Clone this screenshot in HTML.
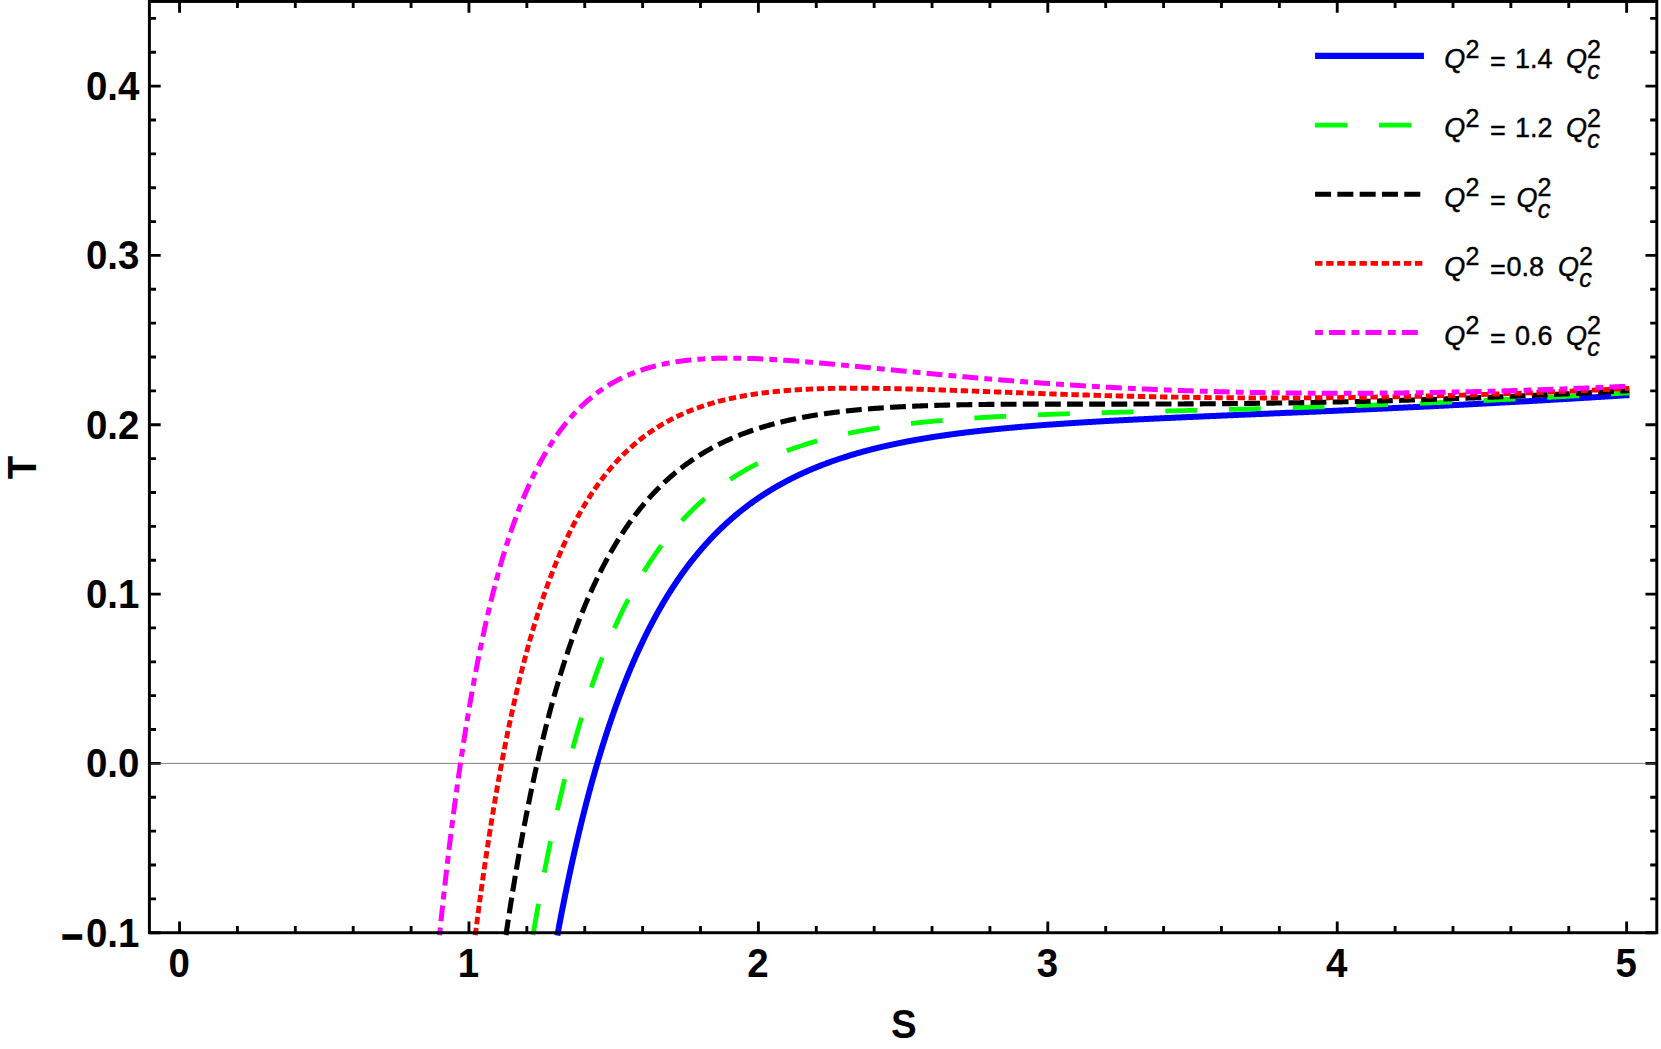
<!DOCTYPE html>
<html><head><meta charset="utf-8"><title>T-S plot</title>
<style>html,body{margin:0;padding:0;background:#fff}svg{display:block}text{font-family:"Liberation Sans",sans-serif;fill:#000}</style>
</head><body>
<svg width="1661" height="1049" viewBox="0 0 1661 1049">
<rect width="1661" height="1049" fill="#fff"/>
<line x1="149.40" y1="763.40" x2="1656.79" y2="763.40" stroke="#808080" stroke-width="1"/>
<g fill="none" stroke-linecap="butt" stroke-linejoin="round">
<path d="M557.32 935.52 L557.33 935.47 L557.35 935.36 L557.38 935.21 L557.41 935.03 L557.45 934.82 L557.49 934.58 L557.54 934.32 L557.60 934.03 L557.65 933.72 L557.71 933.40 L557.78 933.05 L557.85 932.68 L557.92 932.29 L558.00 931.89 L558.07 931.46 L558.16 931.03 L558.24 930.57 L558.33 930.10 L558.42 929.61 L558.52 929.11 L558.61 928.59 L558.71 928.06 L558.82 927.52 L558.92 926.96 L559.03 926.39 L559.14 925.80 L559.25 925.21 L559.37 924.60 L559.49 923.97 L559.61 923.34 L559.73 922.69 L559.86 922.03 L559.99 921.36 L560.12 920.68 L560.25 919.99 L560.38 919.29 L560.52 918.57 L560.66 917.85 L560.80 917.11 L560.95 916.37 L561.09 915.62 L561.24 914.85 L561.39 914.08 L561.54 913.29 L561.70 912.50 L561.86 911.70 L562.02 910.89 L562.18 910.07 L562.34 909.24 L562.50 908.40 L562.67 907.56 L562.84 906.70 L563.01 905.84 L563.18 904.97 L563.36 904.09 L563.53 903.21 L563.71 902.31 L563.89 901.41 L564.08 900.51 L564.26 899.59 L564.45 898.67 L564.63 897.74 L564.82 896.80 L565.02 895.86 L565.21 894.91 L565.40 893.95 L565.60 892.99 L565.80 892.02 L566.00 891.04 L566.20 890.06 L566.41 889.07 L566.61 888.08 L566.82 887.07 L567.03 886.07 L567.24 885.06 L567.45 884.04 L567.67 883.02 L567.88 881.99 L568.10 880.95 L568.32 879.92 L568.54 878.87 L568.76 877.82 L568.99 876.77 L569.21 875.71 L569.44 874.65 L569.67 873.58 L569.90 872.51 L570.13 871.43 L570.36 870.35 L570.60 869.26 L570.84 868.17 L571.07 867.08 L571.31 865.98 L571.56 864.87 L571.80 863.77 L572.04 862.66 L572.29 861.54 L572.54 860.43 L572.79 859.30 L573.04 858.18 L573.29 857.05 L573.54 855.92 L573.80 854.78 L574.06 853.65 L574.31 852.50 L574.57 851.36 L574.83 850.21 L575.10 849.06 L575.36 847.91 L575.63 846.75 L575.89 845.59 L576.16 844.43 L576.43 843.27 L576.70 842.10 L576.98 840.93 L577.25 839.76 L577.53 838.58 L577.80 837.41 L578.08 836.23 L578.36 835.05 L578.64 833.86 L578.92 832.68 L579.21 831.49 L579.49 830.30 L579.78 829.11 L580.07 827.92 L580.36 826.73 L580.65 825.53 L580.94 824.33 L581.24 823.13 L581.53 821.93 L581.83 820.73 L582.13 819.53 L582.42 818.32 L582.72 817.12 L583.03 815.91 L583.33 814.70 L583.63 813.49 L583.94 812.28 L584.25 811.07 L584.56 809.86 L584.87 808.64 L585.18 807.43 L585.49 806.21 L585.80 805.00 L586.12 803.78 L586.43 802.56 L586.75 801.35 L587.07 800.13 L587.39 798.91 L587.71 797.69 L588.03 796.47 L588.36 795.25 L588.68 794.03 L589.01 792.81 L589.34 791.59 L589.67 790.37 L590.00 789.15 L590.33 787.93 L590.66 786.71 L590.99 785.49 L591.33 784.26 L591.67 783.04 L592.00 781.82 L592.34 780.60 L592.68 779.38 L593.03 778.16 L593.37 776.94 L593.71 775.72 L594.06 774.50 L594.40 773.28 L594.75 772.07 L595.10 770.85 L595.45 769.63 L595.80 768.41 L596.15 767.20 L596.51 765.98 L596.86 764.77 L597.22 763.55 L597.58 762.34 L597.93 761.13 L598.29 759.92 L598.65 758.71 L599.02 757.50 L599.38 756.29 L599.74 755.08 L600.11 753.87 L600.48 752.67 L600.84 751.46 L601.21 750.26 L601.58 749.05 L601.95 747.85 L602.33 746.65 L602.70 745.45 L603.08 744.26 L603.45 743.06 L603.83 741.86 L604.21 740.67 L604.59 739.48 L604.97 738.29 L605.35 737.10 L605.73 735.91 L606.12 734.72 L606.50 733.53 L606.89 732.35 L607.27 731.17 L607.66 729.99 L608.05 728.81 L608.44 727.63 L608.84 726.46 L609.23 725.28 L609.62 724.11 L610.02 722.94 L610.41 721.77 L610.81 720.60 L611.21 719.44 L611.61 718.27 L612.01 717.11 L612.41 715.95 L612.82 714.79 L613.22 713.64 L613.63 712.48 L614.03 711.33 L614.44 710.18 L614.85 709.03 L615.26 707.89 L615.67 706.74 L616.08 705.60 L616.49 704.46 L616.91 703.32 L617.32 702.19 L617.74 701.05 L618.16 699.92 L618.57 698.79 L618.99 697.66 L619.41 696.54 L619.84 695.42 L620.26 694.30 L620.68 693.18 L621.11 692.06 L621.53 690.95 L621.96 689.84 L622.39 688.73 L622.82 687.62 L623.25 686.52 L623.68 685.41 L624.11 684.32 L624.54 683.22 L624.98 682.12 L625.41 681.03 L625.85 679.94 L626.29 678.85 L626.72 677.77 L627.16 676.69 L627.60 675.61 L628.05 674.53 L628.49 673.45 L628.93 672.38 L629.38 671.31 L629.82 670.24 L630.27 669.18 L630.72 668.12 L631.17 667.06 L631.61 666.00 L632.07 664.95 L632.52 663.90 L632.97 662.85 L633.42 661.80 L633.88 660.76 L634.33 659.72 L634.79 658.68 L635.25 657.64 L635.71 656.61 L636.17 655.58 L636.63 654.55 L637.09 653.53 L637.55 652.50 L638.02 651.48 L638.48 650.47 L638.95 649.45 L639.42 648.44 L639.88 647.43 L640.35 646.43 L640.82 645.43 L641.29 644.43 L641.77 643.43 L642.24 642.43 L642.71 641.44 L643.19 640.45 L643.66 639.47 L644.14 638.48 L644.62 637.50 L645.10 636.53 L645.58 635.55 L646.06 634.58 L646.54 633.61 L647.02 632.65 L647.51 631.68 L647.99 630.72 L648.48 629.76 L648.96 628.81 L649.45 627.86 L649.94 626.91 L650.43 625.96 L650.92 625.02 L651.41 624.08 L651.90 623.14 L652.40 622.21 L652.89 621.28 L653.39 620.35 L653.88 619.42 L654.38 618.50 L654.88 617.58 L655.38 616.66 L655.88 615.75 L656.38 614.84 L656.88 613.93 L657.38 613.03 L657.89 612.12 L658.39 611.22 L658.90 610.33 L659.41 609.43 L659.91 608.54 L660.42 607.66 L660.93 606.77 L661.44 605.89 L661.95 605.01 L662.47 604.14 L662.98 603.26 L663.49 602.39 L664.01 601.53 L664.53 600.66 L665.04 599.80 L665.56 598.94 L666.08 598.09 L666.60 597.24 L667.12 596.39 L667.64 595.54 L668.16 594.70 L668.69 593.86 L669.21 593.02 L669.74 592.18 L670.26 591.35 L670.79 590.52 L671.32 589.70 L671.85 588.87 L672.38 588.05 L672.91 587.24 L673.44 586.42 L673.98 585.61 L674.51 584.80 L675.04 584.00 L675.58 583.19 L676.12 582.39 L676.65 581.60 L677.19 580.80 L677.73 580.01 L678.27 579.22 L678.81 578.44 L679.35 577.66 L679.90 576.88 L680.44 576.10 L680.98 575.33 L681.53 574.56 L682.08 573.79 L682.62 573.02 L683.17 572.26 L683.72 571.50 L684.27 570.75 L684.82 569.99 L685.37 569.24 L685.93 568.50 L686.48 567.75 L687.03 567.01 L687.59 566.27 L688.15 565.53 L688.70 564.80 L689.26 564.07 L689.82 563.34 L690.38 562.62 L690.94 561.89 L691.50 561.17 L692.07 560.46 L692.63 559.74 L693.19 559.03 L693.76 558.32 L694.32 557.62 L694.89 556.92 L695.46 556.22 L696.03 555.52 L696.60 554.83 L697.17 554.13 L697.74 553.45 L698.31 552.76 L698.88 552.08 L699.46 551.40 L700.03 550.72 L700.61 550.04 L701.18 549.37 L701.76 548.70 L702.34 548.04 L702.92 547.37 L703.50 546.71 L704.08 546.05 L704.66 545.40 L705.24 544.74 L705.83 544.09 L706.41 543.44 L707.00 542.80 L707.58 542.16 L708.17 541.52 L708.76 540.88 L709.35 540.24 L709.93 539.61 L710.52 538.98 L711.12 538.36 L711.71 537.73 L712.30 537.11 L712.89 536.49 L713.49 535.88 L714.08 535.26 L714.68 534.65 L715.28 534.04 L715.88 533.44 L716.47 532.84 L717.07 532.24 L717.67 531.64 L718.28 531.04 L718.88 530.45 L719.48 529.86 L720.08 529.27 L720.69 528.69 L721.29 528.10 L721.90 527.52 L722.51 526.95 L723.12 526.37 L723.72 525.80 L724.33 525.23 L724.95 524.66 L725.56 524.10 L726.17 523.53 L726.78 522.97 L727.40 522.42 L728.01 521.86 L728.63 521.31 L729.24 520.76 L729.86 520.21 L730.48 519.66 L731.10 519.12 L731.72 518.58 L732.34 518.04 L732.96 517.51 L733.58 516.97 L734.20 516.44 L734.83 515.91 L735.45 515.39 L736.08 514.86 L736.70 514.34 L737.33 513.82 L737.96 513.31 L738.59 512.79 L739.22 512.28 L739.85 511.77 L740.48 511.26 L741.11 510.76 L741.74 510.25 L742.38 509.75 L743.01 509.25 L743.65 508.76 L744.28 508.26 L744.92 507.77 L745.56 507.28 L746.19 506.80 L746.83 506.31 L747.47 505.83 L748.12 505.35 L748.76 504.87 L749.40 504.40 L750.04 503.92 L750.69 503.45 L751.33 502.98 L751.98 502.51 L752.62 502.05 L753.27 501.59 L753.92 501.13 L754.57 500.67 L755.22 500.21 L755.87 499.76 L756.52 499.31 L757.17 498.86 L757.83 498.41 L758.48 497.96 L759.13 497.52 L759.79 497.08 L760.45 496.64 L761.10 496.20 L761.76 495.77 L762.42 495.33 L763.08 494.90 L763.74 494.47 L764.40 494.05 L765.06 493.62 L765.72 493.20 L766.39 492.78 L767.05 492.36 L767.72 491.94 L768.38 491.53 L769.05 491.12 L769.72 490.71 L770.38 490.30 L771.05 489.89 L771.72 489.49 L772.39 489.08 L773.06 488.68 L773.74 488.28 L774.41 487.89 L775.08 487.49 L775.76 487.10 L776.43 486.71 L777.11 486.32 L777.78 485.93 L778.46 485.55 L779.14 485.16 L779.82 484.78 L780.50 484.40 L781.18 484.02 L781.86 483.65 L782.54 483.27 L783.22 482.90 L783.91 482.53 L784.59 482.16 L785.28 481.80 L785.96 481.43 L786.65 481.07 L787.34 480.71 L788.03 480.35 L788.72 479.99 L789.41 479.63 L790.10 479.28 L790.79 478.93 L791.48 478.58 L792.17 478.23 L792.87 477.88 L793.56 477.53 L794.26 477.19 L794.95 476.85 L795.65 476.51 L796.35 476.17 L797.04 475.83 L797.74 475.50 L798.44 475.16 L799.14 474.83 L799.85 474.50 L800.55 474.17 L801.25 473.85 L801.95 473.52 L802.66 473.20 L803.36 472.88 L804.07 472.56 L804.78 472.24 L805.48 471.92 L806.19 471.61 L806.90 471.29 L807.61 470.98 L808.32 470.67 L809.03 470.36 L809.74 470.05 L810.46 469.75 L811.17 469.44 L811.88 469.14 L812.60 468.84 L813.31 468.54 L814.03 468.24 L814.75 467.95 L815.47 467.65 L816.18 467.36 L816.90 467.07 L817.62 466.78 L818.35 466.49 L819.07 466.20 L819.79 465.92 L820.51 465.63 L821.24 465.35 L821.96 465.07 L822.69 464.79 L823.41 464.51 L824.14 464.23 L824.87 463.96 L825.60 463.68 L826.32 463.41 L827.05 463.14 L827.79 462.87 L828.52 462.60 L829.25 462.33 L829.98 462.07 L830.72 461.80 L831.45 461.54 L832.18 461.28 L832.92 461.02 L833.66 460.76 L834.39 460.50 L835.13 460.25 L835.87 459.99 L836.61 459.74 L837.35 459.49 L838.09 459.24 L838.83 458.99 L839.58 458.74 L840.32 458.49 L841.06 458.25 L841.81 458.00 L842.55 457.76 L843.30 457.52 L844.05 457.28 L844.79 457.04 L845.54 456.80 L846.29 456.57 L847.04 456.33 L847.79 456.10 L848.54 455.87 L849.29 455.63 L850.05 455.40 L850.80 455.18 L851.55 454.95 L852.31 454.72 L853.06 454.50 L853.82 454.27 L854.58 454.05 L855.33 453.83 L856.09 453.61 L856.85 453.39 L857.61 453.17 L858.37 452.95 L859.13 452.74 L859.90 452.52 L860.66 452.31 L861.42 452.10 L862.19 451.89 L862.95 451.68 L863.72 451.47 L864.48 451.26 L865.25 451.05 L866.02 450.85 L866.79 450.64 L867.56 450.44 L868.33 450.24 L869.10 450.04 L869.87 449.84 L870.64 449.64 L871.41 449.44 L872.19 449.24 L872.96 449.05 L873.74 448.85 L874.51 448.66 L875.29 448.47 L876.06 448.28 L876.84 448.09 L877.62 447.90 L878.40 447.71 L879.18 447.52 L879.96 447.33 L880.74 447.15 L881.52 446.96 L882.31 446.78 L883.09 446.60 L883.87 446.42 L884.66 446.24 L885.45 446.06 L886.23 445.88 L887.02 445.70 L887.81 445.53 L888.59 445.35 L889.38 445.18 L890.17 445.00 L890.96 444.83 L891.76 444.66 L892.55 444.49 L893.34 444.32 L894.13 444.15 L894.93 443.98 L895.72 443.81 L896.52 443.65 L897.31 443.48 L898.11 443.32 L898.91 443.15 L899.71 442.99 L900.50 442.83 L901.30 442.67 L902.10 442.51 L902.91 442.35 L903.71 442.19 L904.51 442.04 L905.31 441.88 L906.12 441.72 L906.92 441.57 L907.73 441.42 L908.53 441.26 L909.34 441.11 L910.15 440.96 L910.95 440.81 L911.76 440.66 L912.57 440.51 L913.38 440.36 L914.19 440.22 L915.00 440.07 L915.82 439.92 L916.63 439.78 L917.44 439.63 L918.26 439.49 L919.07 439.35 L919.89 439.21 L920.70 439.07 L921.52 438.93 L922.34 438.79 L923.16 438.65 L923.98 438.51 L924.80 438.37 L925.62 438.24 L926.44 438.10 L927.26 437.97 L928.08 437.83 L928.90 437.70 L929.73 437.57 L930.55 437.43 L931.38 437.30 L932.20 437.17 L933.03 437.04 L933.86 436.91 L934.68 436.79 L935.51 436.66 L936.34 436.53 L937.17 436.40 L938.00 436.28 L938.83 436.15 L939.67 436.03 L940.50 435.91 L941.33 435.78 L942.17 435.66 L943.00 435.54 L943.84 435.42 L944.67 435.30 L945.51 435.18 L946.35 435.06 L947.18 434.94 L948.02 434.82 L948.86 434.71 L949.70 434.59 L950.54 434.47 L951.39 434.36 L952.23 434.24 L953.07 434.13 L953.91 434.02 L954.76 433.90 L955.60 433.79 L956.45 433.68 L957.29 433.57 L958.14 433.46 L958.99 433.35 L959.84 433.24 L960.69 433.13 L961.54 433.02 L962.39 432.92 L963.24 432.81 L964.09 432.70 L964.94 432.60 L965.79 432.49 L966.65 432.39 L967.50 432.29 L968.36 432.18 L969.21 432.08 L970.07 431.98 L970.92 431.87 L971.78 431.77 L972.64 431.67 L973.50 431.57 L974.36 431.47 L975.22 431.37 L976.08 431.27 L976.94 431.18 L977.80 431.08 L978.67 430.98 L979.53 430.89 L980.39 430.79 L981.26 430.69 L982.12 430.60 L982.99 430.50 L983.86 430.41 L984.72 430.32 L985.59 430.22 L986.46 430.13 L987.33 430.04 L988.20 429.95 L989.07 429.86 L989.94 429.76 L990.82 429.67 L991.69 429.58 L992.56 429.49 L993.44 429.41 L994.31 429.32 L995.19 429.23 L996.06 429.14 L996.94 429.05 L997.82 428.97 L998.69 428.88 L999.57 428.80 L1000.45 428.71 L1001.33 428.63 L1002.21 428.54 L1003.09 428.46 L1003.98 428.37 L1004.86 428.29 L1005.74 428.21 L1006.63 428.12 L1007.51 428.04 L1008.40 427.96 L1009.28 427.88 L1010.17 427.80 L1011.06 427.72 L1011.94 427.64 L1012.83 427.56 L1013.72 427.48 L1014.61 427.40 L1015.50 427.32 L1016.39 427.24 L1017.28 427.17 L1018.18 427.09 L1019.07 427.01 L1019.96 426.94 L1020.86 426.86 L1021.75 426.78 L1022.65 426.71 L1023.54 426.63 L1024.44 426.56 L1025.34 426.48 L1026.24 426.41 L1027.14 426.33 L1028.04 426.26 L1028.94 426.19 L1029.84 426.12 L1030.74 426.04 L1031.64 425.97 L1032.54 425.90 L1033.45 425.83 L1034.35 425.76 L1035.25 425.69 L1036.16 425.62 L1037.07 425.55 L1037.97 425.48 L1038.88 425.41 L1039.79 425.34 L1040.70 425.27 L1041.60 425.20 L1042.51 425.13 L1043.43 425.06 L1044.34 425.00 L1045.25 424.93 L1046.16 424.86 L1047.07 424.79 L1047.99 424.73 L1048.90 424.66 L1049.82 424.60 L1050.73 424.53 L1051.65 424.46 L1052.56 424.40 L1053.48 424.33 L1054.40 424.27 L1055.32 424.21 L1056.24 424.14 L1057.16 424.08 L1058.08 424.01 L1059.00 423.95 L1059.92 423.89 L1060.84 423.83 L1061.77 423.76 L1062.69 423.70 L1063.62 423.64 L1064.54 423.58 L1065.47 423.52 L1066.39 423.46 L1067.32 423.39 L1068.25 423.33 L1069.18 423.27 L1070.10 423.21 L1071.03 423.15 L1071.96 423.09 L1072.89 423.03 L1073.83 422.97 L1074.76 422.92 L1075.69 422.86 L1076.62 422.80 L1077.56 422.74 L1078.49 422.68 L1079.43 422.62 L1080.36 422.57 L1081.30 422.51 L1082.24 422.45 L1083.17 422.39 L1084.11 422.34 L1085.05 422.28 L1085.99 422.22 L1086.93 422.17 L1087.87 422.11 L1088.81 422.06 L1089.76 422.00 L1090.70 421.94 L1091.64 421.89 L1092.59 421.83 L1093.53 421.78 L1094.48 421.72 L1095.42 421.67 L1096.37 421.61 L1097.31 421.56 L1098.26 421.51 L1099.21 421.45 L1100.16 421.40 L1101.11 421.35 L1102.06 421.29 L1103.01 421.24 L1103.96 421.19 L1104.91 421.13 L1105.87 421.08 L1106.82 421.03 L1107.77 420.98 L1108.73 420.92 L1109.68 420.87 L1110.64 420.82 L1111.59 420.77 L1112.55 420.72 L1113.51 420.66 L1114.47 420.61 L1115.43 420.56 L1116.39 420.51 L1117.35 420.46 L1118.31 420.41 L1119.27 420.36 L1120.23 420.31 L1121.19 420.26 L1122.16 420.21 L1123.12 420.16 L1124.08 420.11 L1125.05 420.06 L1126.01 420.01 L1126.98 419.96 L1127.95 419.91 L1128.92 419.86 L1129.88 419.81 L1130.85 419.76 L1131.82 419.71 L1132.79 419.66 L1133.76 419.62 L1134.73 419.57 L1135.70 419.52 L1136.68 419.47 L1137.65 419.42 L1138.62 419.37 L1139.60 419.33 L1140.57 419.28 L1141.55 419.23 L1142.52 419.18 L1143.50 419.13 L1144.48 419.09 L1145.46 419.04 L1146.43 418.99 L1147.41 418.94 L1148.39 418.90 L1149.37 418.85 L1150.35 418.80 L1151.34 418.76 L1152.32 418.71 L1153.30 418.66 L1154.28 418.62 L1155.27 418.57 L1156.25 418.52 L1157.24 418.48 L1158.22 418.43 L1159.21 418.38 L1160.20 418.34 L1161.19 418.29 L1162.17 418.25 L1163.16 418.20 L1164.15 418.15 L1165.14 418.11 L1166.13 418.06 L1167.12 418.02 L1168.12 417.97 L1169.11 417.93 L1170.10 417.88 L1171.09 417.83 L1172.09 417.79 L1173.08 417.74 L1174.08 417.70 L1175.08 417.65 L1176.07 417.61 L1177.07 417.56 L1178.07 417.52 L1179.07 417.47 L1180.06 417.43 L1181.06 417.38 L1182.06 417.34 L1183.07 417.29 L1184.07 417.25 L1185.07 417.20 L1186.07 417.16 L1187.08 417.12 L1188.08 417.07 L1189.08 417.03 L1190.09 416.98 L1191.09 416.94 L1192.10 416.89 L1193.11 416.85 L1194.11 416.80 L1195.12 416.76 L1196.13 416.72 L1197.14 416.67 L1198.15 416.63 L1199.16 416.58 L1200.17 416.54 L1201.18 416.49 L1202.20 416.45 L1203.21 416.41 L1204.22 416.36 L1205.24 416.32 L1206.25 416.27 L1207.27 416.23 L1208.28 416.19 L1209.30 416.14 L1210.32 416.10 L1211.33 416.05 L1212.35 416.01 L1213.37 415.97 L1214.39 415.92 L1215.41 415.88 L1216.43 415.84 L1217.45 415.79 L1218.47 415.75 L1219.50 415.70 L1220.52 415.66 L1221.54 415.62 L1222.57 415.57 L1223.59 415.53 L1224.62 415.48 L1225.64 415.44 L1226.67 415.40 L1227.70 415.35 L1228.72 415.31 L1229.75 415.27 L1230.78 415.22 L1231.81 415.18 L1232.84 415.13 L1233.87 415.09 L1234.90 415.05 L1235.93 415.00 L1236.97 414.96 L1238.00 414.91 L1239.03 414.87 L1240.07 414.83 L1241.10 414.78 L1242.14 414.74 L1243.17 414.70 L1244.21 414.65 L1245.25 414.61 L1246.28 414.56 L1247.32 414.52 L1248.36 414.48 L1249.40 414.43 L1250.44 414.39 L1251.48 414.34 L1252.52 414.30 L1253.57 414.25 L1254.61 414.21 L1255.65 414.17 L1256.69 414.12 L1257.74 414.08 L1258.78 414.03 L1259.83 413.99 L1260.87 413.95 L1261.92 413.90 L1262.97 413.86 L1264.02 413.81 L1265.06 413.77 L1266.11 413.72 L1267.16 413.68 L1268.21 413.63 L1269.26 413.59 L1270.31 413.55 L1271.36 413.50 L1272.42 413.46 L1273.47 413.41 L1274.52 413.37 L1275.58 413.32 L1276.63 413.28 L1277.69 413.23 L1278.74 413.19 L1279.80 413.14 L1280.86 413.10 L1281.91 413.05 L1282.97 413.01 L1284.03 412.96 L1285.09 412.92 L1286.15 412.87 L1287.21 412.83 L1288.27 412.78 L1289.33 412.74 L1290.39 412.69 L1291.46 412.65 L1292.52 412.60 L1293.58 412.55 L1294.65 412.51 L1295.71 412.46 L1296.78 412.42 L1297.85 412.37 L1298.91 412.33 L1299.98 412.28 L1301.05 412.23 L1302.12 412.19 L1303.19 412.14 L1304.26 412.10 L1305.33 412.05 L1306.40 412.00 L1307.47 411.96 L1308.54 411.91 L1309.61 411.86 L1310.69 411.82 L1311.76 411.77 L1312.83 411.72 L1313.91 411.68 L1314.98 411.63 L1316.06 411.58 L1317.14 411.54 L1318.21 411.49 L1319.29 411.44 L1320.37 411.40 L1321.45 411.35 L1322.53 411.30 L1323.61 411.26 L1324.69 411.21 L1325.77 411.16 L1326.85 411.11 L1327.93 411.07 L1329.01 411.02 L1330.10 410.97 L1331.18 410.92 L1332.27 410.88 L1333.35 410.83 L1334.44 410.78 L1335.52 410.73 L1336.61 410.68 L1337.70 410.64 L1338.79 410.59 L1339.87 410.54 L1340.96 410.49 L1342.05 410.44 L1343.14 410.39 L1344.23 410.34 L1345.33 410.30 L1346.42 410.25 L1347.51 410.20 L1348.60 410.15 L1349.70 410.10 L1350.79 410.05 L1351.89 410.00 L1352.98 409.95 L1354.08 409.90 L1355.17 409.85 L1356.27 409.80 L1357.37 409.75 L1358.47 409.70 L1359.56 409.65 L1360.66 409.60 L1361.76 409.55 L1362.86 409.50 L1363.96 409.45 L1365.07 409.40 L1366.17 409.35 L1367.27 409.30 L1368.37 409.25 L1369.48 409.20 L1370.58 409.15 L1371.69 409.10 L1372.79 409.05 L1373.90 409.00 L1375.00 408.95 L1376.11 408.90 L1377.22 408.85 L1378.33 408.79 L1379.44 408.74 L1380.55 408.69 L1381.66 408.64 L1382.77 408.59 L1383.88 408.54 L1384.99 408.48 L1386.10 408.43 L1387.21 408.38 L1388.33 408.33 L1389.44 408.28 L1390.56 408.22 L1391.67 408.17 L1392.79 408.12 L1393.90 408.07 L1395.02 408.01 L1396.14 407.96 L1397.25 407.91 L1398.37 407.85 L1399.49 407.80 L1400.61 407.75 L1401.73 407.69 L1402.85 407.64 L1403.97 407.59 L1405.09 407.53 L1406.22 407.48 L1407.34 407.43 L1408.46 407.37 L1409.59 407.32 L1410.71 407.26 L1411.84 407.21 L1412.96 407.15 L1414.09 407.10 L1415.21 407.05 L1416.34 406.99 L1417.47 406.94 L1418.60 406.88 L1419.73 406.83 L1420.86 406.77 L1421.99 406.72 L1423.12 406.66 L1424.25 406.60 L1425.38 406.55 L1426.51 406.49 L1427.64 406.44 L1428.78 406.38 L1429.91 406.33 L1431.05 406.27 L1432.18 406.21 L1433.32 406.16 L1434.45 406.10 L1435.59 406.04 L1436.73 405.99 L1437.86 405.93 L1439.00 405.87 L1440.14 405.82 L1441.28 405.76 L1442.42 405.70 L1443.56 405.64 L1444.70 405.59 L1445.84 405.53 L1446.99 405.47 L1448.13 405.41 L1449.27 405.35 L1450.42 405.30 L1451.56 405.24 L1452.70 405.18 L1453.85 405.12 L1455.00 405.06 L1456.14 405.00 L1457.29 404.95 L1458.44 404.89 L1459.59 404.83 L1460.73 404.77 L1461.88 404.71 L1463.03 404.65 L1464.18 404.59 L1465.33 404.53 L1466.49 404.47 L1467.64 404.41 L1468.79 404.35 L1469.94 404.29 L1471.10 404.23 L1472.25 404.17 L1473.41 404.11 L1474.56 404.05 L1475.72 403.99 L1476.87 403.93 L1478.03 403.87 L1479.19 403.81 L1480.35 403.74 L1481.51 403.68 L1482.66 403.62 L1483.82 403.56 L1484.98 403.50 L1486.15 403.44 L1487.31 403.37 L1488.47 403.31 L1489.63 403.25 L1490.79 403.19 L1491.96 403.13 L1493.12 403.06 L1494.29 403.00 L1495.45 402.94 L1496.62 402.87 L1497.78 402.81 L1498.95 402.75 L1500.12 402.68 L1501.28 402.62 L1502.45 402.56 L1503.62 402.49 L1504.79 402.43 L1505.96 402.37 L1507.13 402.30 L1508.30 402.24 L1509.47 402.17 L1510.65 402.11 L1511.82 402.04 L1512.99 401.98 L1514.17 401.91 L1515.34 401.85 L1516.52 401.78 L1517.69 401.72 L1518.87 401.65 L1520.04 401.59 L1521.22 401.52 L1522.40 401.46 L1523.58 401.39 L1524.75 401.32 L1525.93 401.26 L1527.11 401.19 L1528.29 401.13 L1529.47 401.06 L1530.66 400.99 L1531.84 400.93 L1533.02 400.86 L1534.20 400.79 L1535.39 400.72 L1536.57 400.66 L1537.75 400.59 L1538.94 400.52 L1540.13 400.45 L1541.31 400.39 L1542.50 400.32 L1543.69 400.25 L1544.87 400.18 L1546.06 400.11 L1547.25 400.04 L1548.44 399.98 L1549.63 399.91 L1550.82 399.84 L1552.01 399.77 L1553.20 399.70 L1554.39 399.63 L1555.59 399.56 L1556.78 399.49 L1557.97 399.42 L1559.17 399.35 L1560.36 399.28 L1561.56 399.21 L1562.75 399.14 L1563.95 399.07 L1565.15 399.00 L1566.34 398.93 L1567.54 398.86 L1568.74 398.79 L1569.94 398.72 L1571.14 398.64 L1572.34 398.57 L1573.54 398.50 L1574.74 398.43 L1575.94 398.36 L1577.15 398.29 L1578.35 398.21 L1579.55 398.14 L1580.75 398.07 L1581.96 398.00 L1583.16 397.92 L1584.37 397.85 L1585.58 397.78 L1586.78 397.70 L1587.99 397.63 L1589.20 397.56 L1590.40 397.48 L1591.61 397.41 L1592.82 397.34 L1594.03 397.26 L1595.24 397.19 L1596.45 397.12 L1597.66 397.04 L1598.88 396.97 L1600.09 396.89 L1601.30 396.82 L1602.51 396.74 L1603.73 396.67 L1604.94 396.59 L1606.16 396.52 L1607.37 396.44 L1608.59 396.37 L1609.80 396.29 L1611.02 396.21 L1612.24 396.14 L1613.46 396.06 L1614.68 395.99 L1615.89 395.91 L1617.11 395.83 L1618.33 395.76 L1619.56 395.68 L1620.78 395.60 L1622.00 395.52 L1623.22 395.45 L1624.44 395.37 L1625.67 395.29 L1626.89 395.21 L1628.12 395.14 L1629.34 395.06" stroke="#0000ff" stroke-width="6.0"/>
<path d="M533.01 935.22 L533.02 935.16 L533.04 935.04 L533.07 934.87 L533.10 934.66 L533.14 934.43 L533.19 934.16 L533.24 933.86 L533.29 933.54 L533.35 933.19 L533.41 932.81 L533.48 932.42 L533.55 932.00 L533.62 931.56 L533.70 931.11 L533.78 930.63 L533.87 930.13 L533.95 929.62 L534.04 929.08 L534.14 928.53 L534.23 927.97 L534.33 927.38 L534.44 926.78 L534.54 926.17 L534.65 925.53 L534.76 924.89 L534.87 924.23 L534.99 923.55 L535.11 922.86 L535.23 922.16 L535.35 921.44 L535.48 920.71 L535.61 919.97 L535.74 919.21 L535.87 918.44 L536.01 917.66 L536.15 916.87 L536.29 916.06 L536.43 915.24 L536.57 914.42 L536.72 913.58 L536.87 912.73 L537.02 911.86 L537.18 910.99 L537.33 910.11 L537.49 909.21 L537.65 908.31 L537.81 907.40 L537.98 906.47 L538.14 905.54 L538.31 904.60 L538.48 903.65 L538.66 902.69 L538.83 901.72 L539.01 900.74 L539.19 899.75 L539.37 898.76 L539.55 897.75 L539.73 896.74 L539.92 895.72 L540.11 894.69 L540.30 893.65 L540.49 892.61 L540.69 891.56 L540.88 890.50 L541.08 889.43 L541.28 888.36 L541.48 887.28 L541.68 886.19 L541.89 885.10 L542.09 883.99 L542.30 882.89 L542.51 881.77 L542.73 880.65 L542.94 879.53 L543.16 878.39 L543.37 877.25 L543.59 876.11 L543.81 874.96 L544.03 873.80 L544.26 872.64 L544.48 871.47 L544.71 870.30 L544.94 869.12 L545.17 867.94 L545.40 866.75 L545.64 865.56 L545.87 864.36 L546.11 863.16 L546.35 861.96 L546.59 860.74 L546.83 859.53 L547.08 858.31 L547.32 857.08 L547.57 855.86 L547.82 854.62 L548.07 853.39 L548.32 852.15 L548.57 850.90 L548.83 849.66 L549.08 848.40 L549.34 847.15 L549.60 845.89 L549.86 844.63 L550.13 843.37 L550.39 842.10 L550.66 840.83 L550.92 839.55 L551.19 838.28 L551.46 837.00 L551.73 835.72 L552.01 834.43 L552.28 833.14 L552.56 831.85 L552.83 830.56 L553.11 829.27 L553.39 827.97 L553.68 826.67 L553.96 825.37 L554.24 824.07 L554.53 822.76 L554.82 821.45 L555.11 820.14 L555.40 818.83 L555.69 817.52 L555.98 816.21 L556.28 814.89 L556.57 813.57 L556.87 812.25 L557.17 810.93 L557.47 809.61 L557.77 808.29 L558.07 806.97 L558.38 805.64 L558.69 804.32 L558.99 802.99 L559.30 801.66 L559.61 800.34 L559.92 799.01 L560.24 797.68 L560.55 796.35 L560.86 795.02 L561.18 793.68 L561.50 792.35 L561.82 791.02 L562.14 789.69 L562.46 788.35 L562.78 787.02 L563.11 785.69 L563.44 784.35 L563.76 783.02 L564.09 781.69 L564.42 780.35 L564.75 779.02 L565.09 777.69 L565.42 776.35 L565.75 775.02 L566.09 773.69 L566.43 772.35 L566.77 771.02 L567.11 769.69 L567.45 768.36 L567.79 767.03 L568.14 765.70 L568.48 764.37 L568.83 763.04 L569.18 761.71 L569.53 760.39 L569.88 759.06 L570.23 757.74 L570.58 756.41 L570.94 755.09 L571.29 753.77 L571.65 752.44 L572.01 751.12 L572.37 749.81 L572.73 748.49 L573.09 747.17 L573.45 745.85 L573.81 744.54 L574.18 743.23 L574.55 741.92 L574.91 740.61 L575.28 739.30 L575.65 737.99 L576.02 736.68 L576.40 735.38 L576.77 734.08 L577.15 732.78 L577.52 731.48 L577.90 730.18 L578.28 728.88 L578.66 727.59 L579.04 726.30 L579.42 725.00 L579.80 723.72 L580.19 722.43 L580.57 721.14 L580.96 719.86 L581.35 718.58 L581.74 717.30 L582.13 716.02 L582.52 714.75 L582.91 713.48 L583.31 712.21 L583.70 710.94 L584.10 709.67 L584.50 708.41 L584.89 707.14 L585.29 705.89 L585.70 704.63 L586.10 703.37 L586.50 702.12 L586.90 700.87 L587.31 699.62 L587.72 698.38 L588.12 697.13 L588.53 695.89 L588.94 694.65 L589.35 693.42 L589.77 692.19 L590.18 690.96 L590.59 689.73 L591.01 688.50 L591.43 687.28 L591.84 686.06 L592.26 684.84 L592.68 683.63 L593.10 682.42 L593.53 681.21 L593.95 680.00 L594.37 678.80 L594.80 677.60 L595.23 676.40 L595.65 675.20 L596.08 674.01 L596.51 672.82 L596.94 671.63 L597.38 670.45 L597.81 669.27 L598.24 668.09 L598.68 666.92 L599.12 665.74 L599.55 664.58 L599.99 663.41 L600.43 662.25 L600.87 661.09 L601.32 659.93 L601.76 658.77 L602.20 657.62 L602.65 656.48 L603.09 655.33 L603.54 654.19 L603.99 653.05 L604.44 651.92 L604.89 650.78 L605.34 649.65 L605.79 648.53 L606.25 647.41 L606.70 646.29 L607.16 645.17 L607.61 644.06 L608.07 642.95 L608.53 641.84 L608.99 640.74 L609.45 639.63 L609.91 638.54 L610.38 637.44 L610.84 636.35 L611.31 635.27 L611.77 634.18 L612.24 633.10 L612.71 632.02 L613.18 630.95 L613.65 629.88 L614.12 628.81 L614.59 627.75 L615.07 626.69 L615.54 625.63 L616.02 624.57 L616.49 623.52 L616.97 622.48 L617.45 621.43 L617.93 620.39 L618.41 619.35 L618.89 618.32 L619.37 617.29 L619.86 616.26 L620.34 615.24 L620.83 614.22 L621.31 613.20 L621.80 612.19 L622.29 611.18 L622.78 610.17 L623.27 609.17 L623.76 608.17 L624.25 607.17 L624.75 606.18 L625.24 605.19 L625.74 604.20 L626.24 603.22 L626.73 602.24 L627.23 601.27 L627.73 600.29 L628.23 599.32 L628.73 598.36 L629.24 597.40 L629.74 596.44 L630.24 595.48 L630.75 594.53 L631.26 593.58 L631.76 592.64 L632.27 591.70 L632.78 590.76 L633.29 589.83 L633.80 588.89 L634.32 587.97 L634.83 587.04 L635.34 586.12 L635.86 585.20 L636.38 584.29 L636.89 583.38 L637.41 582.47 L637.93 581.57 L638.45 580.67 L638.97 579.77 L639.49 578.88 L640.02 577.99 L640.54 577.10 L641.07 576.22 L641.59 575.34 L642.12 574.47 L642.65 573.59 L643.18 572.72 L643.71 571.86 L644.24 571.00 L644.77 570.14 L645.30 569.28 L645.83 568.43 L646.37 567.58 L646.90 566.74 L647.44 565.89 L647.98 565.06 L648.52 564.22 L649.06 563.39 L649.60 562.56 L650.14 561.74 L650.68 560.91 L651.22 560.10 L651.77 559.28 L652.31 558.47 L652.86 557.66 L653.40 556.86 L653.95 556.05 L654.50 555.26 L655.05 554.46 L655.60 553.67 L656.15 552.88 L656.70 552.10 L657.26 551.32 L657.81 550.54 L658.37 549.76 L658.92 548.99 L659.48 548.22 L660.04 547.46 L660.60 546.70 L661.16 545.94 L661.72 545.18 L662.28 544.43 L662.84 543.68 L663.40 542.94 L663.97 542.19 L664.53 541.46 L665.10 540.72 L665.67 539.99 L666.24 539.26 L666.80 538.53 L667.37 537.81 L667.95 537.09 L668.52 536.37 L669.09 535.66 L669.66 534.95 L670.24 534.24 L670.81 533.54 L671.39 532.84 L671.97 532.14 L672.54 531.45 L673.12 530.76 L673.70 530.07 L674.28 529.38 L674.86 528.70 L675.45 528.02 L676.03 527.35 L676.61 526.68 L677.20 526.01 L677.78 525.34 L678.37 524.68 L678.96 524.02 L679.55 523.36 L680.14 522.71 L680.73 522.06 L681.32 521.41 L681.91 520.76 L682.50 520.12 L683.10 519.48 L683.69 518.85 L684.29 518.21 L684.89 517.58 L685.48 516.96 L686.08 516.33 L686.68 515.71 L687.28 515.09 L687.88 514.48 L688.48 513.87 L689.09 513.26 L689.69 512.65 L690.29 512.05 L690.90 511.45 L691.51 510.85 L692.11 510.26 L692.72 509.66 L693.33 509.07 L693.94 508.49 L694.55 507.91 L695.16 507.33 L695.77 506.75 L696.39 506.17 L697.00 505.60 L697.62 505.03 L698.23 504.47 L698.85 503.90 L699.47 503.34 L700.09 502.78 L700.70 502.23 L701.32 501.68 L701.95 501.13 L702.57 500.58 L703.19 500.04 L703.81 499.49 L704.44 498.96 L705.06 498.42 L705.69 497.89 L706.32 497.36 L706.94 496.83 L707.57 496.30 L708.20 495.78 L708.83 495.26 L709.46 494.74 L710.10 494.23 L710.73 493.72 L711.36 493.21 L712.00 492.70 L712.63 492.20 L713.27 491.69 L713.91 491.20 L714.54 490.70 L715.18 490.20 L715.82 489.71 L716.46 489.22 L717.10 488.74 L717.75 488.25 L718.39 487.77 L719.03 487.29 L719.68 486.82 L720.32 486.34 L720.97 485.87 L721.62 485.40 L722.26 484.94 L722.91 484.47 L723.56 484.01 L724.21 483.55 L724.86 483.10 L725.52 482.64 L726.17 482.19 L726.82 481.74 L727.48 481.30 L728.13 480.85 L728.79 480.41 L729.45 479.97 L730.10 479.53 L730.76 479.10 L731.42 478.66 L732.08 478.23 L732.74 477.81 L733.41 477.38 L734.07 476.96 L734.73 476.53 L735.40 476.12 L736.06 475.70 L736.73 475.28 L737.40 474.87 L738.06 474.46 L738.73 474.06 L739.40 473.65 L740.07 473.25 L740.74 472.85 L741.41 472.45 L742.09 472.05 L742.76 471.66 L743.44 471.26 L744.11 470.87 L744.79 470.49 L745.46 470.10 L746.14 469.72 L746.82 469.33 L747.50 468.96 L748.18 468.58 L748.86 468.20 L749.54 467.83 L750.22 467.46 L750.91 467.09 L751.59 466.72 L752.27 466.36 L752.96 466.00 L753.65 465.64 L754.33 465.28 L755.02 464.92 L755.71 464.57 L756.40 464.21 L757.09 463.86 L757.78 463.51 L758.47 463.17 L759.17 462.82 L759.86 462.48 L760.55 462.14 L761.25 461.80 L761.95 461.46 L762.64 461.13 L763.34 460.80 L764.04 460.47 L764.74 460.14 L765.44 459.81 L766.14 459.48 L766.84 459.16 L767.54 458.84 L768.25 458.52 L768.95 458.20 L769.65 457.89 L770.36 457.57 L771.07 457.26 L771.77 456.95 L772.48 456.64 L773.19 456.33 L773.90 456.03 L774.61 455.72 L775.32 455.42 L776.03 455.12 L776.74 454.83 L777.46 454.53 L778.17 454.23 L778.89 453.94 L779.60 453.65 L780.32 453.36 L781.04 453.07 L781.75 452.79 L782.47 452.50 L783.19 452.22 L783.91 451.94 L784.63 451.66 L785.36 451.38 L786.08 451.11 L786.80 450.83 L787.53 450.56 L788.25 450.29 L788.98 450.02 L789.70 449.75 L790.43 449.49 L791.16 449.22 L791.89 448.96 L792.62 448.70 L793.35 448.44 L794.08 448.18 L794.81 447.93 L795.54 447.67 L796.28 447.42 L797.01 447.17 L797.75 446.92 L798.48 446.67 L799.22 446.42 L799.96 446.18 L800.69 445.93 L801.43 445.69 L802.17 445.45 L802.91 445.21 L803.65 444.97 L804.40 444.73 L805.14 444.50 L805.88 444.26 L806.63 444.03 L807.37 443.80 L808.12 443.57 L808.86 443.34 L809.61 443.12 L810.36 442.89 L811.11 442.67 L811.86 442.45 L812.61 442.22 L813.36 442.00 L814.11 441.79 L814.86 441.57 L815.61 441.35 L816.37 441.14 L817.12 440.93 L817.88 440.72 L818.63 440.51 L819.39 440.30 L820.15 440.09 L820.91 439.88 L821.67 439.68 L822.43 439.47 L823.19 439.27 L823.95 439.07 L824.71 438.87 L825.47 438.67 L826.24 438.48 L827.00 438.28 L827.77 438.09 L828.53 437.89 L829.30 437.70 L830.07 437.51 L830.84 437.32 L831.61 437.13 L832.38 436.94 L833.15 436.76 L833.92 436.57 L834.69 436.39 L835.46 436.21 L836.24 436.02 L837.01 435.84 L837.78 435.67 L838.56 435.49 L839.34 435.31 L840.11 435.14 L840.89 434.96 L841.67 434.79 L842.45 434.62 L843.23 434.45 L844.01 434.28 L844.79 434.11 L845.57 433.94 L846.36 433.77 L847.14 433.61 L847.92 433.44 L848.71 433.28 L849.50 433.12 L850.28 432.96 L851.07 432.80 L851.86 432.64 L852.65 432.48 L853.44 432.32 L854.23 432.17 L855.02 432.01 L855.81 431.86 L856.60 431.70 L857.40 431.55 L858.19 431.40 L858.98 431.25 L859.78 431.10 L860.58 430.96 L861.37 430.81 L862.17 430.66 L862.97 430.52 L863.77 430.37 L864.57 430.23 L865.37 430.09 L866.17 429.95 L866.97 429.81 L867.77 429.67 L868.58 429.53 L869.38 429.39 L870.19 429.26 L870.99 429.12 L871.80 428.99 L872.60 428.85 L873.41 428.72 L874.22 428.59 L875.03 428.46 L875.84 428.33 L876.65 428.20 L877.46 428.07 L878.27 427.94 L879.09 427.82 L879.90 427.69 L880.71 427.57 L881.53 427.44 L882.34 427.32 L883.16 427.20 L883.98 427.08 L884.80 426.96 L885.61 426.84 L886.43 426.72 L887.25 426.60 L888.07 426.48 L888.90 426.37 L889.72 426.25 L890.54 426.14 L891.36 426.02 L892.19 425.91 L893.01 425.80 L893.84 425.68 L894.66 425.57 L895.49 425.46 L896.32 425.35 L897.15 425.24 L897.98 425.14 L898.81 425.03 L899.64 424.92 L900.47 424.82 L901.30 424.71 L902.13 424.61 L902.97 424.50 L903.80 424.40 L904.63 424.30 L905.47 424.20 L906.31 424.10 L907.14 424.00 L907.98 423.90 L908.82 423.80 L909.66 423.70 L910.50 423.60 L911.34 423.51 L912.18 423.41 L913.02 423.32 L913.86 423.22 L914.71 423.13 L915.55 423.04 L916.40 422.94 L917.24 422.85 L918.09 422.76 L918.93 422.67 L919.78 422.58 L920.63 422.49 L921.48 422.40 L922.33 422.31 L923.18 422.22 L924.03 422.14 L924.88 422.05 L925.73 421.97 L926.58 421.88 L927.44 421.80 L928.29 421.71 L929.15 421.63 L930.00 421.55 L930.86 421.46 L931.72 421.38 L932.57 421.30 L933.43 421.22 L934.29 421.14 L935.15 421.06 L936.01 420.98 L936.87 420.90 L937.74 420.83 L938.60 420.75 L939.46 420.67 L940.33 420.60 L941.19 420.52 L942.06 420.45 L942.92 420.37 L943.79 420.30 L944.66 420.23 L945.52 420.15 L946.39 420.08 L947.26 420.01 L948.13 419.94 L949.00 419.87 L949.87 419.80 L950.75 419.73 L951.62 419.66 L952.49 419.59 L953.37 419.52 L954.24 419.45 L955.12 419.38 L955.99 419.32 L956.87 419.25 L957.75 419.18 L958.63 419.12 L959.51 419.05 L960.39 418.99 L961.27 418.92 L962.15 418.86 L963.03 418.80 L963.91 418.73 L964.80 418.67 L965.68 418.61 L966.56 418.55 L967.45 418.49 L968.33 418.43 L969.22 418.37 L970.11 418.31 L971.00 418.25 L971.88 418.19 L972.77 418.13 L973.66 418.07 L974.55 418.01 L975.45 417.95 L976.34 417.90 L977.23 417.84 L978.12 417.78 L979.02 417.73 L979.91 417.67 L980.81 417.62 L981.70 417.56 L982.60 417.51 L983.50 417.45 L984.39 417.40 L985.29 417.35 L986.19 417.29 L987.09 417.24 L987.99 417.19 L988.89 417.14 L989.80 417.09 L990.70 417.03 L991.60 416.98 L992.51 416.93 L993.41 416.88 L994.32 416.83 L995.22 416.78 L996.13 416.73 L997.04 416.69 L997.94 416.64 L998.85 416.59 L999.76 416.54 L1000.67 416.49 L1001.58 416.45 L1002.49 416.40 L1003.41 416.35 L1004.32 416.31 L1005.23 416.26 L1006.15 416.21 L1007.06 416.17 L1007.98 416.12 L1008.89 416.08 L1009.81 416.03 L1010.72 415.99 L1011.64 415.95 L1012.56 415.90 L1013.48 415.86 L1014.40 415.82 L1015.32 415.77 L1016.24 415.73 L1017.16 415.69 L1018.09 415.64 L1019.01 415.60 L1019.93 415.56 L1020.86 415.52 L1021.78 415.48 L1022.71 415.44 L1023.64 415.40 L1024.56 415.36 L1025.49 415.32 L1026.42 415.28 L1027.35 415.24 L1028.28 415.20 L1029.21 415.16 L1030.14 415.12 L1031.07 415.08 L1032.00 415.04 L1032.94 415.00 L1033.87 414.97 L1034.80 414.93 L1035.74 414.89 L1036.67 414.85 L1037.61 414.82 L1038.55 414.78 L1039.49 414.74 L1040.42 414.71 L1041.36 414.67 L1042.30 414.63 L1043.24 414.60 L1044.18 414.56 L1045.12 414.53 L1046.07 414.49 L1047.01 414.46 L1047.95 414.42 L1048.90 414.39 L1049.84 414.35 L1050.79 414.32 L1051.73 414.28 L1052.68 414.25 L1053.63 414.21 L1054.58 414.18 L1055.52 414.15 L1056.47 414.11 L1057.42 414.08 L1058.37 414.05 L1059.33 414.01 L1060.28 413.98 L1061.23 413.95 L1062.18 413.92 L1063.14 413.88 L1064.09 413.85 L1065.05 413.82 L1066.00 413.79 L1066.96 413.76 L1067.92 413.72 L1068.87 413.69 L1069.83 413.66 L1070.79 413.63 L1071.75 413.60 L1072.71 413.57 L1073.67 413.54 L1074.63 413.51 L1075.59 413.48 L1076.56 413.45 L1077.52 413.42 L1078.48 413.39 L1079.45 413.36 L1080.41 413.33 L1081.38 413.30 L1082.35 413.27 L1083.31 413.24 L1084.28 413.21 L1085.25 413.18 L1086.22 413.15 L1087.19 413.12 L1088.16 413.09 L1089.13 413.06 L1090.10 413.04 L1091.08 413.01 L1092.05 412.98 L1093.02 412.95 L1094.00 412.92 L1094.97 412.89 L1095.95 412.87 L1096.92 412.84 L1097.90 412.81 L1098.88 412.78 L1099.85 412.75 L1100.83 412.73 L1101.81 412.70 L1102.79 412.67 L1103.77 412.64 L1104.75 412.62 L1105.74 412.59 L1106.72 412.56 L1107.70 412.53 L1108.69 412.51 L1109.67 412.48 L1110.66 412.45 L1111.64 412.43 L1112.63 412.40 L1113.61 412.37 L1114.60 412.35 L1115.59 412.32 L1116.58 412.29 L1117.57 412.27 L1118.56 412.24 L1119.55 412.21 L1120.54 412.19 L1121.53 412.16 L1122.52 412.14 L1123.52 412.11 L1124.51 412.08 L1125.51 412.06 L1126.50 412.03 L1127.50 412.01 L1128.49 411.98 L1129.49 411.95 L1130.49 411.93 L1131.49 411.90 L1132.48 411.88 L1133.48 411.85 L1134.48 411.83 L1135.48 411.80 L1136.49 411.77 L1137.49 411.75 L1138.49 411.72 L1139.49 411.70 L1140.50 411.67 L1141.50 411.65 L1142.51 411.62 L1143.51 411.60 L1144.52 411.57 L1145.53 411.54 L1146.53 411.52 L1147.54 411.49 L1148.55 411.47 L1149.56 411.44 L1150.57 411.42 L1151.58 411.39 L1152.59 411.37 L1153.60 411.34 L1154.62 411.32 L1155.63 411.29 L1156.64 411.27 L1157.66 411.24 L1158.67 411.22 L1159.69 411.19 L1160.70 411.17 L1161.72 411.14 L1162.74 411.12 L1163.76 411.09 L1164.77 411.06 L1165.79 411.04 L1166.81 411.01 L1167.83 410.99 L1168.86 410.96 L1169.88 410.94 L1170.90 410.91 L1171.92 410.89 L1172.95 410.86 L1173.97 410.84 L1175.00 410.81 L1176.02 410.79 L1177.05 410.76 L1178.07 410.74 L1179.10 410.71 L1180.13 410.69 L1181.16 410.66 L1182.19 410.63 L1183.22 410.61 L1184.25 410.58 L1185.28 410.56 L1186.31 410.53 L1187.34 410.51 L1188.37 410.48 L1189.41 410.46 L1190.44 410.43 L1191.48 410.40 L1192.51 410.38 L1193.55 410.35 L1194.58 410.33 L1195.62 410.30 L1196.66 410.28 L1197.70 410.25 L1198.73 410.22 L1199.77 410.20 L1200.81 410.17 L1201.86 410.15 L1202.90 410.12 L1203.94 410.09 L1204.98 410.07 L1206.02 410.04 L1207.07 410.01 L1208.11 409.99 L1209.16 409.96 L1210.20 409.94 L1211.25 409.91 L1212.30 409.88 L1213.34 409.86 L1214.39 409.83 L1215.44 409.80 L1216.49 409.78 L1217.54 409.75 L1218.59 409.72 L1219.64 409.70 L1220.69 409.67 L1221.74 409.64 L1222.80 409.62 L1223.85 409.59 L1224.90 409.56 L1225.96 409.53 L1227.01 409.51 L1228.07 409.48 L1229.13 409.45 L1230.18 409.42 L1231.24 409.40 L1232.30 409.37 L1233.36 409.34 L1234.42 409.31 L1235.48 409.29 L1236.54 409.26 L1237.60 409.23 L1238.66 409.20 L1239.72 409.18 L1240.79 409.15 L1241.85 409.12 L1242.91 409.09 L1243.98 409.06 L1245.04 409.03 L1246.11 409.01 L1247.18 408.98 L1248.24 408.95 L1249.31 408.92 L1250.38 408.89 L1251.45 408.86 L1252.52 408.83 L1253.59 408.80 L1254.66 408.78 L1255.73 408.75 L1256.80 408.72 L1257.88 408.69 L1258.95 408.66 L1260.02 408.63 L1261.10 408.60 L1262.17 408.57 L1263.25 408.54 L1264.32 408.51 L1265.40 408.48 L1266.48 408.45 L1267.56 408.42 L1268.63 408.39 L1269.71 408.36 L1270.79 408.33 L1271.87 408.30 L1272.95 408.27 L1274.04 408.24 L1275.12 408.21 L1276.20 408.18 L1277.28 408.15 L1278.37 408.11 L1279.45 408.08 L1280.54 408.05 L1281.62 408.02 L1282.71 407.99 L1283.80 407.96 L1284.88 407.93 L1285.97 407.89 L1287.06 407.86 L1288.15 407.83 L1289.24 407.80 L1290.33 407.77 L1291.42 407.73 L1292.51 407.70 L1293.60 407.67 L1294.70 407.64 L1295.79 407.61 L1296.88 407.57 L1297.98 407.54 L1299.07 407.51 L1300.17 407.47 L1301.27 407.44 L1302.36 407.41 L1303.46 407.37 L1304.56 407.34 L1305.66 407.31 L1306.76 407.27 L1307.85 407.24 L1308.96 407.21 L1310.06 407.17 L1311.16 407.14 L1312.26 407.10 L1313.36 407.07 L1314.47 407.04 L1315.57 407.00 L1316.67 406.97 L1317.78 406.93 L1318.88 406.90 L1319.99 406.86 L1321.10 406.83 L1322.20 406.79 L1323.31 406.76 L1324.42 406.72 L1325.53 406.68 L1326.64 406.65 L1327.75 406.61 L1328.86 406.58 L1329.97 406.54 L1331.08 406.51 L1332.20 406.47 L1333.31 406.43 L1334.42 406.40 L1335.54 406.36 L1336.65 406.32 L1337.77 406.29 L1338.89 406.25 L1340.00 406.21 L1341.12 406.17 L1342.24 406.14 L1343.36 406.10 L1344.47 406.06 L1345.59 406.02 L1346.71 405.99 L1347.83 405.95 L1348.96 405.91 L1350.08 405.87 L1351.20 405.83 L1352.32 405.80 L1353.45 405.76 L1354.57 405.72 L1355.70 405.68 L1356.82 405.64 L1357.95 405.60 L1359.07 405.56 L1360.20 405.52 L1361.33 405.48 L1362.46 405.44 L1363.58 405.40 L1364.71 405.36 L1365.84 405.32 L1366.97 405.28 L1368.11 405.24 L1369.24 405.20 L1370.37 405.16 L1371.50 405.12 L1372.64 405.08 L1373.77 405.04 L1374.90 405.00 L1376.04 404.96 L1377.18 404.92 L1378.31 404.88 L1379.45 404.83 L1380.59 404.79 L1381.72 404.75 L1382.86 404.71 L1384.00 404.67 L1385.14 404.62 L1386.28 404.58 L1387.42 404.54 L1388.56 404.50 L1389.71 404.45 L1390.85 404.41 L1391.99 404.37 L1393.13 404.32 L1394.28 404.28 L1395.42 404.24 L1396.57 404.19 L1397.72 404.15 L1398.86 404.11 L1400.01 404.06 L1401.16 404.02 L1402.30 403.97 L1403.45 403.93 L1404.60 403.88 L1405.75 403.84 L1406.90 403.79 L1408.05 403.75 L1409.21 403.70 L1410.36 403.66 L1411.51 403.61 L1412.66 403.57 L1413.82 403.52 L1414.97 403.48 L1416.13 403.43 L1417.28 403.38 L1418.44 403.34 L1419.60 403.29 L1420.75 403.24 L1421.91 403.20 L1423.07 403.15 L1424.23 403.10 L1425.39 403.06 L1426.55 403.01 L1427.71 402.96 L1428.87 402.91 L1430.03 402.87 L1431.20 402.82 L1432.36 402.77 L1433.52 402.72 L1434.69 402.67 L1435.85 402.62 L1437.02 402.58 L1438.18 402.53 L1439.35 402.48 L1440.52 402.43 L1441.68 402.38 L1442.85 402.33 L1444.02 402.28 L1445.19 402.23 L1446.36 402.18 L1447.53 402.13 L1448.70 402.08 L1449.87 402.03 L1451.04 401.98 L1452.22 401.93 L1453.39 401.88 L1454.56 401.83 L1455.74 401.78 L1456.91 401.73 L1458.09 401.67 L1459.26 401.62 L1460.44 401.57 L1461.62 401.52 L1462.79 401.47 L1463.97 401.41 L1465.15 401.36 L1466.33 401.31 L1467.51 401.26 L1468.69 401.20 L1469.87 401.15 L1471.05 401.10 L1472.23 401.05 L1473.42 400.99 L1474.60 400.94 L1475.78 400.88 L1476.97 400.83 L1478.15 400.78 L1479.34 400.72 L1480.52 400.67 L1481.71 400.61 L1482.90 400.56 L1484.09 400.50 L1485.27 400.45 L1486.46 400.39 L1487.65 400.34 L1488.84 400.28 L1490.03 400.23 L1491.22 400.17 L1492.41 400.12 L1493.61 400.06 L1494.80 400.00 L1495.99 399.95 L1497.19 399.89 L1498.38 399.83 L1499.58 399.78 L1500.77 399.72 L1501.97 399.66 L1503.16 399.61 L1504.36 399.55 L1505.56 399.49 L1506.76 399.43 L1507.96 399.38 L1509.15 399.32 L1510.35 399.26 L1511.55 399.20 L1512.76 399.14 L1513.96 399.08 L1515.16 399.03 L1516.36 398.97 L1517.56 398.91 L1518.77 398.85 L1519.97 398.79 L1521.18 398.73 L1522.38 398.67 L1523.59 398.61 L1524.80 398.55 L1526.00 398.49 L1527.21 398.43 L1528.42 398.37 L1529.63 398.31 L1530.84 398.25 L1532.05 398.18 L1533.26 398.12 L1534.47 398.06 L1535.68 398.00 L1536.89 397.94 L1538.10 397.88 L1539.32 397.81 L1540.53 397.75 L1541.74 397.69 L1542.96 397.63 L1544.17 397.56 L1545.39 397.50 L1546.61 397.44 L1547.82 397.38 L1549.04 397.31 L1550.26 397.25 L1551.48 397.18 L1552.70 397.12 L1553.92 397.06 L1555.14 396.99 L1556.36 396.93 L1557.58 396.86 L1558.80 396.80 L1560.02 396.73 L1561.24 396.67 L1562.47 396.60 L1563.69 396.54 L1564.92 396.47 L1566.14 396.41 L1567.37 396.34 L1568.59 396.28 L1569.82 396.21 L1571.05 396.14 L1572.28 396.08 L1573.50 396.01 L1574.73 395.94 L1575.96 395.88 L1577.19 395.81 L1578.42 395.74 L1579.65 395.68 L1580.88 395.61 L1582.12 395.54 L1583.35 395.47 L1584.58 395.40 L1585.82 395.34 L1587.05 395.27 L1588.29 395.20 L1589.52 395.13 L1590.76 395.06 L1591.99 394.99 L1593.23 394.92 L1594.47 394.85 L1595.71 394.78 L1596.95 394.71 L1598.18 394.64 L1599.42 394.57 L1600.66 394.50 L1601.91 394.43 L1603.15 394.36 L1604.39 394.29 L1605.63 394.22 L1606.87 394.15 L1608.12 394.08 L1609.36 394.01 L1610.61 393.94 L1611.85 393.86 L1613.10 393.79 L1614.34 393.72 L1615.59 393.65 L1616.84 393.58 L1618.09 393.50 L1619.33 393.43 L1620.58 393.36 L1621.83 393.28 L1623.08 393.21 L1624.33 393.14 L1625.58 393.06 L1626.84 392.99 L1628.09 392.92 L1629.34 392.84" stroke="#00ff00" stroke-width="4.8" stroke-dasharray="31.845 31.845" stroke-dashoffset="0"/>
<path d="M505.95 935.22 L505.96 935.15 L505.98 935.01 L506.01 934.81 L506.04 934.57 L506.08 934.30 L506.13 933.98 L506.18 933.64 L506.24 933.26 L506.30 932.86 L506.36 932.43 L506.43 931.97 L506.50 931.48 L506.58 930.98 L506.66 930.44 L506.74 929.89 L506.83 929.31 L506.91 928.72 L507.01 928.10 L507.10 927.46 L507.20 926.80 L507.30 926.12 L507.41 925.43 L507.52 924.71 L507.63 923.98 L507.74 923.23 L507.86 922.47 L507.97 921.69 L508.10 920.89 L508.22 920.07 L508.35 919.24 L508.48 918.40 L508.61 917.54 L508.74 916.66 L508.88 915.77 L509.02 914.87 L509.16 913.95 L509.30 913.02 L509.45 912.08 L509.60 911.12 L509.75 910.15 L509.90 909.16 L510.06 908.17 L510.22 907.16 L510.38 906.14 L510.54 905.11 L510.70 904.07 L510.87 903.02 L511.04 901.95 L511.21 900.88 L511.38 899.79 L511.56 898.69 L511.73 897.59 L511.91 896.47 L512.09 895.34 L512.28 894.21 L512.46 893.06 L512.65 891.91 L512.84 890.74 L513.03 889.57 L513.22 888.39 L513.42 887.20 L513.61 886.00 L513.81 884.79 L514.01 883.57 L514.22 882.35 L514.42 881.12 L514.63 879.88 L514.83 878.63 L515.04 877.37 L515.26 876.11 L515.47 874.84 L515.69 873.57 L515.90 872.28 L516.12 870.99 L516.34 869.70 L516.57 868.40 L516.79 867.09 L517.02 865.77 L517.24 864.45 L517.47 863.12 L517.70 861.79 L517.94 860.45 L518.17 859.11 L518.41 857.76 L518.65 856.40 L518.89 855.04 L519.13 853.68 L519.37 852.31 L519.62 850.94 L519.86 849.56 L520.11 848.17 L520.36 846.78 L520.61 845.39 L520.87 844.00 L521.12 842.60 L521.38 841.19 L521.64 839.78 L521.90 838.37 L522.16 836.95 L522.42 835.53 L522.68 834.11 L522.95 832.69 L523.22 831.26 L523.49 829.82 L523.76 828.39 L524.03 826.95 L524.30 825.51 L524.58 824.06 L524.85 822.62 L525.13 821.17 L525.41 819.72 L525.69 818.26 L525.98 816.81 L526.26 815.35 L526.55 813.89 L526.83 812.43 L527.12 810.96 L527.41 809.50 L527.70 808.03 L528.00 806.56 L528.29 805.09 L528.59 803.62 L528.89 802.14 L529.19 800.67 L529.49 799.19 L529.79 797.71 L530.09 796.24 L530.40 794.76 L530.70 793.28 L531.01 791.79 L531.32 790.31 L531.63 788.83 L531.94 787.35 L532.26 785.86 L532.57 784.38 L532.89 782.90 L533.20 781.41 L533.52 779.93 L533.84 778.44 L534.17 776.96 L534.49 775.47 L534.81 773.99 L535.14 772.50 L535.47 771.02 L535.80 769.53 L536.13 768.05 L536.46 766.57 L536.79 765.08 L537.12 763.60 L537.46 762.12 L537.80 760.64 L538.13 759.16 L538.47 757.68 L538.81 756.20 L539.16 754.72 L539.50 753.25 L539.85 751.77 L540.19 750.29 L540.54 748.82 L540.89 747.35 L541.24 745.88 L541.59 744.41 L541.94 742.94 L542.30 741.47 L542.65 740.01 L543.01 738.54 L543.37 737.08 L543.72 735.62 L544.08 734.16 L544.45 732.70 L544.81 731.24 L545.17 729.79 L545.54 728.34 L545.91 726.89 L546.27 725.44 L546.64 723.99 L547.01 722.55 L547.39 721.11 L547.76 719.66 L548.13 718.23 L548.51 716.79 L548.89 715.36 L549.26 713.93 L549.64 712.50 L550.02 711.07 L550.41 709.65 L550.79 708.22 L551.17 706.80 L551.56 705.39 L551.94 703.97 L552.33 702.56 L552.72 701.15 L553.11 699.75 L553.50 698.34 L553.90 696.94 L554.29 695.54 L554.69 694.15 L555.08 692.76 L555.48 691.37 L555.88 689.98 L556.28 688.60 L556.68 687.22 L557.08 685.84 L557.49 684.46 L557.89 683.09 L558.30 681.72 L558.70 680.36 L559.11 679.00 L559.52 677.64 L559.93 676.28 L560.35 674.93 L560.76 673.58 L561.17 672.23 L561.59 670.89 L562.00 669.55 L562.42 668.21 L562.84 666.88 L563.26 665.55 L563.68 664.23 L564.10 662.90 L564.53 661.59 L564.95 660.27 L565.38 658.96 L565.81 657.65 L566.23 656.34 L566.66 655.04 L567.09 653.75 L567.53 652.45 L567.96 651.16 L568.39 649.87 L568.83 648.59 L569.26 647.31 L569.70 646.04 L570.14 644.76 L570.58 643.50 L571.02 642.23 L571.46 640.97 L571.90 639.71 L572.35 638.46 L572.79 637.21 L573.24 635.97 L573.69 634.72 L574.13 633.49 L574.58 632.25 L575.03 631.02 L575.49 629.80 L575.94 628.58 L576.39 627.36 L576.85 626.14 L577.30 624.93 L577.76 623.73 L578.22 622.52 L578.68 621.33 L579.14 620.13 L579.60 618.94 L580.06 617.75 L580.53 616.57 L580.99 615.39 L581.46 614.22 L581.92 613.05 L582.39 611.88 L582.86 610.72 L583.33 609.56 L583.80 608.41 L584.28 607.26 L584.75 606.11 L585.22 604.97 L585.70 603.83 L586.18 602.70 L586.65 601.57 L587.13 600.45 L587.61 599.33 L588.09 598.21 L588.58 597.10 L589.06 595.99 L589.54 594.88 L590.03 593.78 L590.51 592.69 L591.00 591.59 L591.49 590.51 L591.98 589.42 L592.47 588.34 L592.96 587.27 L593.45 586.20 L593.95 585.13 L594.44 584.07 L594.94 583.01 L595.43 581.95 L595.93 580.90 L596.43 579.86 L596.93 578.81 L597.43 577.78 L597.93 576.74 L598.44 575.71 L598.94 574.69 L599.44 573.67 L599.95 572.65 L600.46 571.64 L600.96 570.63 L601.47 569.62 L601.98 568.62 L602.49 567.63 L603.01 566.63 L603.52 565.65 L604.03 564.66 L604.55 563.68 L605.06 562.71 L605.58 561.74 L606.10 560.77 L606.62 559.80 L607.14 558.85 L607.66 557.89 L608.18 556.94 L608.71 555.99 L609.23 555.05 L609.75 554.11 L610.28 553.18 L610.81 552.25 L611.34 551.32 L611.86 550.40 L612.39 549.48 L612.93 548.57 L613.46 547.66 L613.99 546.76 L614.53 545.85 L615.06 544.96 L615.60 544.06 L616.13 543.17 L616.67 542.29 L617.21 541.41 L617.75 540.53 L618.29 539.66 L618.83 538.79 L619.38 537.92 L619.92 537.06 L620.46 536.21 L621.01 535.35 L621.56 534.51 L622.10 533.66 L622.65 532.82 L623.20 531.98 L623.75 531.15 L624.31 530.32 L624.86 529.50 L625.41 528.67 L625.97 527.86 L626.52 527.04 L627.08 526.23 L627.64 525.43 L628.19 524.63 L628.75 523.83 L629.31 523.04 L629.87 522.25 L630.44 521.46 L631.00 520.68 L631.56 519.90 L632.13 519.13 L632.70 518.36 L633.26 517.59 L633.83 516.83 L634.40 516.07 L634.97 515.31 L635.54 514.56 L636.11 513.81 L636.68 513.07 L637.26 512.33 L637.83 511.59 L638.41 510.86 L638.98 510.13 L639.56 509.40 L640.14 508.68 L640.72 507.96 L641.30 507.25 L641.88 506.54 L642.46 505.83 L643.04 505.13 L643.63 504.43 L644.21 503.73 L644.80 503.04 L645.39 502.35 L645.97 501.67 L646.56 500.99 L647.15 500.31 L647.74 499.63 L648.33 498.96 L648.92 498.30 L649.52 497.63 L650.11 496.97 L650.71 496.32 L651.30 495.66 L651.90 495.01 L652.50 494.37 L653.10 493.73 L653.70 493.09 L654.30 492.45 L654.90 491.82 L655.50 491.19 L656.10 490.57 L656.71 489.94 L657.31 489.32 L657.92 488.71 L658.52 488.10 L659.13 487.49 L659.74 486.88 L660.35 486.28 L660.96 485.69 L661.57 485.09 L662.18 484.50 L662.80 483.91 L663.41 483.33 L664.03 482.74 L664.64 482.16 L665.26 481.59 L665.88 481.02 L666.50 480.45 L667.11 479.88 L667.73 479.32 L668.36 478.76 L668.98 478.21 L669.60 477.65 L670.23 477.10 L670.85 476.56 L671.48 476.01 L672.10 475.47 L672.73 474.94 L673.36 474.40 L673.99 473.87 L674.62 473.34 L675.25 472.82 L675.88 472.30 L676.51 471.78 L677.15 471.26 L677.78 470.75 L678.42 470.24 L679.05 469.74 L679.69 469.23 L680.33 468.73 L680.97 468.23 L681.61 467.74 L682.25 467.25 L682.89 466.76 L683.53 466.27 L684.17 465.79 L684.82 465.31 L685.46 464.83 L686.11 464.36 L686.76 463.89 L687.40 463.42 L688.05 462.95 L688.70 462.49 L689.35 462.03 L690.00 461.57 L690.65 461.12 L691.31 460.67 L691.96 460.22 L692.62 459.77 L693.27 459.33 L693.93 458.89 L694.58 458.45 L695.24 458.02 L695.90 457.58 L696.56 457.15 L697.22 456.73 L697.88 456.30 L698.55 455.88 L699.21 455.46 L699.87 455.04 L700.54 454.63 L701.20 454.22 L701.87 453.81 L702.54 453.40 L703.21 453.00 L703.87 452.60 L704.54 452.20 L705.22 451.81 L705.89 451.41 L706.56 451.02 L707.23 450.63 L707.91 450.25 L708.58 449.86 L709.26 449.48 L709.93 449.10 L710.61 448.73 L711.29 448.36 L711.97 447.98 L712.65 447.62 L713.33 447.25 L714.01 446.89 L714.69 446.52 L715.38 446.16 L716.06 445.81 L716.75 445.45 L717.43 445.10 L718.12 444.75 L718.81 444.40 L719.50 444.06 L720.19 443.72 L720.88 443.38 L721.57 443.04 L722.26 442.70 L722.95 442.37 L723.64 442.04 L724.34 441.71 L725.03 441.38 L725.73 441.05 L726.43 440.73 L727.12 440.41 L727.82 440.09 L728.52 439.78 L729.22 439.46 L729.92 439.15 L730.62 438.84 L731.33 438.53 L732.03 438.23 L732.73 437.93 L733.44 437.62 L734.15 437.32 L734.85 437.03 L735.56 436.73 L736.27 436.44 L736.98 436.15 L737.69 435.86 L738.40 435.57 L739.11 435.29 L739.82 435.01 L740.53 434.72 L741.25 434.45 L741.96 434.17 L742.68 433.89 L743.40 433.62 L744.11 433.35 L744.83 433.08 L745.55 432.81 L746.27 432.55 L746.99 432.28 L747.71 432.02 L748.43 431.76 L749.16 431.51 L749.88 431.25 L750.60 431.00 L751.33 430.74 L752.06 430.49 L752.78 430.24 L753.51 430.00 L754.24 429.75 L754.97 429.51 L755.70 429.27 L756.43 429.03 L757.16 428.79 L757.89 428.55 L758.63 428.32 L759.36 428.09 L760.10 427.86 L760.83 427.63 L761.57 427.40 L762.31 427.17 L763.04 426.95 L763.78 426.73 L764.52 426.51 L765.26 426.29 L766.00 426.07 L766.75 425.85 L767.49 425.64 L768.23 425.43 L768.98 425.22 L769.72 425.01 L770.47 424.80 L771.22 424.59 L771.96 424.39 L772.71 424.19 L773.46 423.99 L774.21 423.79 L774.96 423.59 L775.71 423.39 L776.47 423.20 L777.22 423.00 L777.97 422.81 L778.73 422.62 L779.48 422.43 L780.24 422.24 L781.00 422.06 L781.75 421.87 L782.51 421.69 L783.27 421.51 L784.03 421.33 L784.79 421.15 L785.55 420.97 L786.32 420.79 L787.08 420.62 L787.84 420.45 L788.61 420.27 L789.37 420.10 L790.14 419.93 L790.91 419.77 L791.68 419.60 L792.45 419.43 L793.21 419.27 L793.98 419.11 L794.76 418.95 L795.53 418.79 L796.30 418.63 L797.07 418.47 L797.85 418.32 L798.62 418.16 L799.40 418.01 L800.17 417.86 L800.95 417.71 L801.73 417.56 L802.51 417.41 L803.29 417.26 L804.07 417.12 L804.85 416.97 L805.63 416.83 L806.41 416.69 L807.20 416.55 L807.98 416.41 L808.77 416.27 L809.55 416.13 L810.34 416.00 L811.13 415.86 L811.91 415.73 L812.70 415.59 L813.49 415.46 L814.28 415.33 L815.07 415.20 L815.86 415.08 L816.66 414.95 L817.45 414.82 L818.24 414.70 L819.04 414.57 L819.83 414.45 L820.63 414.33 L821.43 414.21 L822.23 414.09 L823.02 413.97 L823.82 413.86 L824.62 413.74 L825.42 413.63 L826.23 413.51 L827.03 413.40 L827.83 413.29 L828.64 413.18 L829.44 413.07 L830.25 412.96 L831.05 412.85 L831.86 412.74 L832.67 412.64 L833.47 412.53 L834.28 412.43 L835.09 412.33 L835.90 412.22 L836.72 412.12 L837.53 412.02 L838.34 411.92 L839.15 411.82 L839.97 411.73 L840.78 411.63 L841.60 411.54 L842.42 411.44 L843.23 411.35 L844.05 411.25 L844.87 411.16 L845.69 411.07 L846.51 410.98 L847.33 410.89 L848.15 410.80 L848.97 410.72 L849.80 410.63 L850.62 410.54 L851.45 410.46 L852.27 410.38 L853.10 410.29 L853.92 410.21 L854.75 410.13 L855.58 410.05 L856.41 409.97 L857.24 409.89 L858.07 409.81 L858.90 409.73 L859.73 409.66 L860.57 409.58 L861.40 409.50 L862.23 409.43 L863.07 409.36 L863.91 409.28 L864.74 409.21 L865.58 409.14 L866.42 409.07 L867.26 409.00 L868.09 408.93 L868.93 408.86 L869.78 408.79 L870.62 408.73 L871.46 408.66 L872.30 408.60 L873.15 408.53 L873.99 408.47 L874.84 408.40 L875.68 408.34 L876.53 408.28 L877.38 408.22 L878.22 408.16 L879.07 408.09 L879.92 408.04 L880.77 407.98 L881.62 407.92 L882.48 407.86 L883.33 407.80 L884.18 407.75 L885.04 407.69 L885.89 407.64 L886.75 407.58 L887.60 407.53 L888.46 407.48 L889.32 407.42 L890.17 407.37 L891.03 407.32 L891.89 407.27 L892.75 407.22 L893.61 407.17 L894.48 407.12 L895.34 407.07 L896.20 407.02 L897.07 406.98 L897.93 406.93 L898.80 406.88 L899.66 406.84 L900.53 406.79 L901.40 406.75 L902.27 406.70 L903.13 406.66 L904.00 406.62 L904.87 406.58 L905.75 406.53 L906.62 406.49 L907.49 406.45 L908.36 406.41 L909.24 406.37 L910.11 406.33 L910.99 406.29 L911.86 406.26 L912.74 406.22 L913.62 406.18 L914.50 406.14 L915.37 406.11 L916.25 406.07 L917.13 406.04 L918.02 406.00 L918.90 405.97 L919.78 405.93 L920.66 405.90 L921.55 405.86 L922.43 405.83 L923.32 405.80 L924.20 405.77 L925.09 405.74 L925.98 405.71 L926.87 405.68 L927.75 405.64 L928.64 405.62 L929.53 405.59 L930.43 405.56 L931.32 405.53 L932.21 405.50 L933.10 405.47 L934.00 405.45 L934.89 405.42 L935.79 405.39 L936.68 405.37 L937.58 405.34 L938.48 405.31 L939.37 405.29 L940.27 405.26 L941.17 405.24 L942.07 405.22 L942.97 405.19 L943.87 405.17 L944.78 405.15 L945.68 405.12 L946.58 405.10 L947.49 405.08 L948.39 405.06 L949.30 405.04 L950.20 405.02 L951.11 405.00 L952.02 404.98 L952.93 404.96 L953.83 404.94 L954.74 404.92 L955.65 404.90 L956.57 404.88 L957.48 404.86 L958.39 404.84 L959.30 404.83 L960.22 404.81 L961.13 404.79 L962.05 404.78 L962.96 404.76 L963.88 404.74 L964.80 404.73 L965.72 404.71 L966.63 404.70 L967.55 404.68 L968.47 404.67 L969.39 404.65 L970.32 404.64 L971.24 404.62 L972.16 404.61 L973.08 404.60 L974.01 404.58 L974.93 404.57 L975.86 404.56 L976.79 404.54 L977.71 404.53 L978.64 404.52 L979.57 404.51 L980.50 404.50 L981.43 404.48 L982.36 404.47 L983.29 404.46 L984.22 404.45 L985.15 404.44 L986.09 404.43 L987.02 404.42 L987.95 404.41 L988.89 404.40 L989.83 404.39 L990.76 404.38 L991.70 404.37 L992.64 404.37 L993.58 404.36 L994.51 404.35 L995.45 404.34 L996.39 404.33 L997.34 404.32 L998.28 404.32 L999.22 404.31 L1000.16 404.30 L1001.11 404.29 L1002.05 404.29 L1003.00 404.28 L1003.94 404.27 L1004.89 404.27 L1005.84 404.26 L1006.79 404.25 L1007.73 404.25 L1008.68 404.24 L1009.63 404.24 L1010.58 404.23 L1011.54 404.23 L1012.49 404.22 L1013.44 404.22 L1014.39 404.21 L1015.35 404.21 L1016.30 404.20 L1017.26 404.20 L1018.21 404.19 L1019.17 404.19 L1020.13 404.18 L1021.09 404.18 L1022.05 404.18 L1023.00 404.17 L1023.96 404.17 L1024.93 404.17 L1025.89 404.16 L1026.85 404.16 L1027.81 404.16 L1028.77 404.15 L1029.74 404.15 L1030.70 404.15 L1031.67 404.14 L1032.64 404.14 L1033.60 404.14 L1034.57 404.14 L1035.54 404.13 L1036.51 404.13 L1037.48 404.13 L1038.45 404.13 L1039.42 404.12 L1040.39 404.12 L1041.36 404.12 L1042.33 404.12 L1043.31 404.12 L1044.28 404.12 L1045.25 404.11 L1046.23 404.11 L1047.21 404.11 L1048.18 404.11 L1049.16 404.11 L1050.14 404.11 L1051.12 404.11 L1052.10 404.10 L1053.08 404.10 L1054.06 404.10 L1055.04 404.10 L1056.02 404.10 L1057.00 404.10 L1057.99 404.10 L1058.97 404.10 L1059.95 404.10 L1060.94 404.10 L1061.92 404.10 L1062.91 404.10 L1063.90 404.10 L1064.89 404.10 L1065.88 404.09 L1066.86 404.09 L1067.85 404.09 L1068.84 404.09 L1069.84 404.09 L1070.83 404.09 L1071.82 404.09 L1072.81 404.09 L1073.81 404.09 L1074.80 404.09 L1075.80 404.09 L1076.79 404.09 L1077.79 404.09 L1078.79 404.09 L1079.78 404.09 L1080.78 404.09 L1081.78 404.09 L1082.78 404.09 L1083.78 404.09 L1084.78 404.09 L1085.78 404.09 L1086.78 404.09 L1087.79 404.09 L1088.79 404.09 L1089.80 404.09 L1090.80 404.09 L1091.81 404.09 L1092.81 404.09 L1093.82 404.09 L1094.83 404.09 L1095.83 404.09 L1096.84 404.09 L1097.85 404.09 L1098.86 404.09 L1099.87 404.09 L1100.88 404.09 L1101.90 404.09 L1102.91 404.09 L1103.92 404.09 L1104.93 404.09 L1105.95 404.09 L1106.96 404.09 L1107.98 404.09 L1109.00 404.09 L1110.01 404.09 L1111.03 404.09 L1112.05 404.09 L1113.07 404.09 L1114.09 404.09 L1115.11 404.09 L1116.13 404.09 L1117.15 404.09 L1118.17 404.09 L1119.20 404.09 L1120.22 404.08 L1121.24 404.08 L1122.27 404.08 L1123.29 404.08 L1124.32 404.08 L1125.35 404.08 L1126.37 404.08 L1127.40 404.08 L1128.43 404.08 L1129.46 404.08 L1130.49 404.08 L1131.52 404.07 L1132.55 404.07 L1133.58 404.07 L1134.62 404.07 L1135.65 404.07 L1136.68 404.07 L1137.72 404.07 L1138.75 404.07 L1139.79 404.06 L1140.82 404.06 L1141.86 404.06 L1142.90 404.06 L1143.94 404.06 L1144.97 404.05 L1146.01 404.05 L1147.05 404.05 L1148.09 404.05 L1149.14 404.05 L1150.18 404.04 L1151.22 404.04 L1152.26 404.04 L1153.31 404.04 L1154.35 404.03 L1155.40 404.03 L1156.44 404.03 L1157.49 404.03 L1158.54 404.02 L1159.58 404.02 L1160.63 404.02 L1161.68 404.01 L1162.73 404.01 L1163.78 404.01 L1164.83 404.00 L1165.88 404.00 L1166.93 404.00 L1167.99 403.99 L1169.04 403.99 L1170.09 403.99 L1171.15 403.98 L1172.20 403.98 L1173.26 403.97 L1174.32 403.97 L1175.37 403.97 L1176.43 403.96 L1177.49 403.96 L1178.55 403.95 L1179.61 403.95 L1180.67 403.94 L1181.73 403.94 L1182.79 403.93 L1183.85 403.93 L1184.91 403.92 L1185.98 403.92 L1187.04 403.91 L1188.11 403.91 L1189.17 403.90 L1190.24 403.89 L1191.30 403.89 L1192.37 403.88 L1193.44 403.88 L1194.51 403.87 L1195.57 403.86 L1196.64 403.86 L1197.71 403.85 L1198.78 403.85 L1199.86 403.84 L1200.93 403.83 L1202.00 403.83 L1203.07 403.82 L1204.15 403.81 L1205.22 403.80 L1206.30 403.80 L1207.37 403.79 L1208.45 403.78 L1209.53 403.77 L1210.60 403.77 L1211.68 403.76 L1212.76 403.75 L1213.84 403.74 L1214.92 403.73 L1216.00 403.72 L1217.08 403.72 L1218.16 403.71 L1219.25 403.70 L1220.33 403.69 L1221.41 403.68 L1222.50 403.67 L1223.58 403.66 L1224.67 403.65 L1225.75 403.64 L1226.84 403.63 L1227.93 403.62 L1229.02 403.61 L1230.11 403.60 L1231.19 403.59 L1232.28 403.58 L1233.38 403.57 L1234.47 403.56 L1235.56 403.55 L1236.65 403.54 L1237.74 403.53 L1238.84 403.52 L1239.93 403.51 L1241.03 403.50 L1242.12 403.48 L1243.22 403.47 L1244.31 403.46 L1245.41 403.45 L1246.51 403.44 L1247.61 403.42 L1248.71 403.41 L1249.81 403.40 L1250.91 403.39 L1252.01 403.37 L1253.11 403.36 L1254.21 403.35 L1255.31 403.33 L1256.42 403.32 L1257.52 403.31 L1258.63 403.29 L1259.73 403.28 L1260.84 403.27 L1261.94 403.25 L1263.05 403.24 L1264.16 403.22 L1265.27 403.21 L1266.37 403.19 L1267.48 403.18 L1268.59 403.16 L1269.70 403.15 L1270.82 403.13 L1271.93 403.12 L1273.04 403.10 L1274.15 403.09 L1275.27 403.07 L1276.38 403.05 L1277.50 403.04 L1278.61 403.02 L1279.73 403.00 L1280.84 402.99 L1281.96 402.97 L1283.08 402.95 L1284.20 402.94 L1285.32 402.92 L1286.44 402.90 L1287.56 402.88 L1288.68 402.87 L1289.80 402.85 L1290.92 402.83 L1292.04 402.81 L1293.17 402.79 L1294.29 402.78 L1295.42 402.76 L1296.54 402.74 L1297.67 402.72 L1298.79 402.70 L1299.92 402.68 L1301.05 402.66 L1302.17 402.64 L1303.30 402.62 L1304.43 402.60 L1305.56 402.58 L1306.69 402.56 L1307.82 402.54 L1308.96 402.52 L1310.09 402.50 L1311.22 402.48 L1312.35 402.46 L1313.49 402.43 L1314.62 402.41 L1315.76 402.39 L1316.89 402.37 L1318.03 402.35 L1319.17 402.33 L1320.31 402.30 L1321.44 402.28 L1322.58 402.26 L1323.72 402.24 L1324.86 402.21 L1326.00 402.19 L1327.14 402.17 L1328.29 402.14 L1329.43 402.12 L1330.57 402.09 L1331.72 402.07 L1332.86 402.05 L1334.00 402.02 L1335.15 402.00 L1336.30 401.97 L1337.44 401.95 L1338.59 401.92 L1339.74 401.90 L1340.89 401.87 L1342.03 401.85 L1343.18 401.82 L1344.33 401.79 L1345.48 401.77 L1346.64 401.74 L1347.79 401.72 L1348.94 401.69 L1350.09 401.66 L1351.25 401.64 L1352.40 401.61 L1353.56 401.58 L1354.71 401.55 L1355.87 401.53 L1357.02 401.50 L1358.18 401.47 L1359.34 401.44 L1360.50 401.41 L1361.66 401.38 L1362.82 401.36 L1363.98 401.33 L1365.14 401.30 L1366.30 401.27 L1367.46 401.24 L1368.62 401.21 L1369.79 401.18 L1370.95 401.15 L1372.11 401.12 L1373.28 401.09 L1374.45 401.06 L1375.61 401.03 L1376.78 401.00 L1377.95 400.97 L1379.11 400.93 L1380.28 400.90 L1381.45 400.87 L1382.62 400.84 L1383.79 400.81 L1384.96 400.78 L1386.13 400.74 L1387.30 400.71 L1388.48 400.68 L1389.65 400.65 L1390.82 400.61 L1392.00 400.58 L1393.17 400.55 L1394.35 400.51 L1395.52 400.48 L1396.70 400.44 L1397.88 400.41 L1399.06 400.38 L1400.23 400.34 L1401.41 400.31 L1402.59 400.27 L1403.77 400.24 L1404.95 400.20 L1406.13 400.17 L1407.32 400.13 L1408.50 400.09 L1409.68 400.06 L1410.87 400.02 L1412.05 399.99 L1413.23 399.95 L1414.42 399.91 L1415.61 399.88 L1416.79 399.84 L1417.98 399.80 L1419.17 399.76 L1420.35 399.73 L1421.54 399.69 L1422.73 399.65 L1423.92 399.61 L1425.11 399.57 L1426.30 399.53 L1427.50 399.50 L1428.69 399.46 L1429.88 399.42 L1431.07 399.38 L1432.27 399.34 L1433.46 399.30 L1434.66 399.26 L1435.85 399.22 L1437.05 399.18 L1438.25 399.14 L1439.44 399.10 L1440.64 399.06 L1441.84 399.02 L1443.04 398.97 L1444.24 398.93 L1445.44 398.89 L1446.64 398.85 L1447.84 398.81 L1449.05 398.77 L1450.25 398.72 L1451.45 398.68 L1452.65 398.64 L1453.86 398.60 L1455.06 398.55 L1456.27 398.51 L1457.48 398.47 L1458.68 398.42 L1459.89 398.38 L1461.10 398.33 L1462.31 398.29 L1463.51 398.25 L1464.72 398.20 L1465.93 398.16 L1467.14 398.11 L1468.36 398.07 L1469.57 398.02 L1470.78 397.97 L1471.99 397.93 L1473.21 397.88 L1474.42 397.84 L1475.64 397.79 L1476.85 397.74 L1478.07 397.70 L1479.28 397.65 L1480.50 397.60 L1481.72 397.56 L1482.94 397.51 L1484.15 397.46 L1485.37 397.41 L1486.59 397.36 L1487.81 397.32 L1489.03 397.27 L1490.26 397.22 L1491.48 397.17 L1492.70 397.12 L1493.92 397.07 L1495.15 397.02 L1496.37 396.97 L1497.60 396.92 L1498.82 396.87 L1500.05 396.82 L1501.28 396.77 L1502.50 396.72 L1503.73 396.67 L1504.96 396.62 L1506.19 396.57 L1507.42 396.52 L1508.65 396.47 L1509.88 396.42 L1511.11 396.36 L1512.34 396.31 L1513.57 396.26 L1514.81 396.21 L1516.04 396.15 L1517.27 396.10 L1518.51 396.05 L1519.74 395.99 L1520.98 395.94 L1522.21 395.89 L1523.45 395.83 L1524.69 395.78 L1525.93 395.73 L1527.17 395.67 L1528.40 395.62 L1529.64 395.56 L1530.88 395.51 L1532.12 395.45 L1533.37 395.40 L1534.61 395.34 L1535.85 395.28 L1537.09 395.23 L1538.34 395.17 L1539.58 395.12 L1540.83 395.06 L1542.07 395.00 L1543.32 394.95 L1544.56 394.89 L1545.81 394.83 L1547.06 394.77 L1548.31 394.72 L1549.55 394.66 L1550.80 394.60 L1552.05 394.54 L1553.30 394.48 L1554.55 394.43 L1555.81 394.37 L1557.06 394.31 L1558.31 394.25 L1559.56 394.19 L1560.82 394.13 L1562.07 394.07 L1563.33 394.01 L1564.58 393.95 L1565.84 393.89 L1567.09 393.83 L1568.35 393.77 L1569.61 393.71 L1570.87 393.65 L1572.13 393.59 L1573.38 393.52 L1574.64 393.46 L1575.90 393.40 L1577.17 393.34 L1578.43 393.28 L1579.69 393.21 L1580.95 393.15 L1582.21 393.09 L1583.48 393.02 L1584.74 392.96 L1586.01 392.90 L1587.27 392.83 L1588.54 392.77 L1589.80 392.71 L1591.07 392.64 L1592.34 392.58 L1593.61 392.51 L1594.88 392.45 L1596.15 392.38 L1597.42 392.32 L1598.69 392.25 L1599.96 392.19 L1601.23 392.12 L1602.50 392.06 L1603.77 391.99 L1605.05 391.92 L1606.32 391.86 L1607.59 391.79 L1608.87 391.72 L1610.14 391.66 L1611.42 391.59 L1612.70 391.52 L1613.97 391.45 L1615.25 391.39 L1616.53 391.32 L1617.81 391.25 L1619.09 391.18 L1620.37 391.11 L1621.65 391.04 L1622.93 390.98 L1624.21 390.91 L1625.49 390.84 L1626.77 390.77 L1628.06 390.70 L1629.34 390.63" stroke="#000000" stroke-width="5.1" stroke-dasharray="15.86 6.275" stroke-dashoffset="0"/>
<path d="M475.29 935.22 L475.30 935.14 L475.32 934.96 L475.35 934.73 L475.39 934.44 L475.43 934.11 L475.48 933.73 L475.53 933.32 L475.59 932.86 L475.65 932.38 L475.72 931.86 L475.79 931.31 L475.86 930.72 L475.94 930.11 L476.02 929.47 L476.10 928.81 L476.19 928.11 L476.28 927.39 L476.38 926.65 L476.48 925.88 L476.58 925.09 L476.68 924.28 L476.79 923.45 L476.90 922.59 L477.02 921.71 L477.13 920.81 L477.25 919.89 L477.37 918.95 L477.50 918.00 L477.63 917.02 L477.76 916.02 L477.89 915.01 L478.02 913.98 L478.16 912.93 L478.30 911.87 L478.44 910.78 L478.59 909.69 L478.74 908.57 L478.89 907.44 L479.04 906.30 L479.20 905.14 L479.35 903.97 L479.51 902.78 L479.68 901.57 L479.84 900.36 L480.01 899.13 L480.17 897.88 L480.35 896.63 L480.52 895.36 L480.69 894.08 L480.87 892.78 L481.05 891.48 L481.23 890.16 L481.42 888.83 L481.60 887.49 L481.79 886.14 L481.98 884.77 L482.17 883.40 L482.37 882.02 L482.56 880.62 L482.76 879.22 L482.96 877.81 L483.17 876.38 L483.37 874.95 L483.58 873.51 L483.78 872.06 L483.99 870.60 L484.21 869.13 L484.42 867.66 L484.64 866.17 L484.85 864.68 L485.07 863.18 L485.29 861.67 L485.52 860.16 L485.74 858.64 L485.97 857.11 L486.20 855.57 L486.43 854.03 L486.66 852.48 L486.89 850.92 L487.13 849.36 L487.37 847.79 L487.61 846.21 L487.85 844.63 L488.09 843.05 L488.34 841.46 L488.58 839.86 L488.83 838.26 L489.08 836.65 L489.33 835.04 L489.59 833.42 L489.84 831.80 L490.10 830.18 L490.36 828.55 L490.62 826.92 L490.88 825.28 L491.14 823.64 L491.41 821.99 L491.67 820.34 L491.94 818.69 L492.21 817.04 L492.48 815.38 L492.76 813.72 L493.03 812.05 L493.31 810.38 L493.58 808.71 L493.86 807.04 L494.15 805.37 L494.43 803.69 L494.71 802.01 L495.00 800.33 L495.29 798.65 L495.57 796.96 L495.87 795.27 L496.16 793.59 L496.45 791.90 L496.75 790.20 L497.04 788.51 L497.34 786.82 L497.64 785.12 L497.94 783.43 L498.25 781.73 L498.55 780.03 L498.86 778.34 L499.16 776.64 L499.47 774.94 L499.78 773.24 L500.09 771.54 L500.41 769.84 L500.72 768.14 L501.04 766.44 L501.36 764.74 L501.67 763.04 L501.99 761.35 L502.32 759.65 L502.64 757.95 L502.96 756.25 L503.29 754.56 L503.62 752.86 L503.95 751.17 L504.28 749.47 L504.61 747.78 L504.94 746.09 L505.28 744.40 L505.62 742.71 L505.95 741.02 L506.29 739.33 L506.63 737.65 L506.97 735.96 L507.32 734.28 L507.66 732.60 L508.01 730.92 L508.36 729.25 L508.70 727.57 L509.05 725.90 L509.41 724.23 L509.76 722.56 L510.11 720.90 L510.47 719.23 L510.83 717.57 L511.18 715.91 L511.54 714.26 L511.90 712.60 L512.27 710.95 L512.63 709.30 L512.99 707.65 L513.36 706.01 L513.73 704.37 L514.10 702.73 L514.47 701.10 L514.84 699.47 L515.21 697.84 L515.59 696.21 L515.96 694.59 L516.34 692.97 L516.72 691.35 L517.10 689.74 L517.48 688.13 L517.86 686.53 L518.24 684.92 L518.63 683.32 L519.01 681.73 L519.40 680.14 L519.79 678.55 L520.18 676.96 L520.57 675.38 L520.96 673.81 L521.35 672.23 L521.75 670.66 L522.15 669.10 L522.54 667.54 L522.94 665.98 L523.34 664.42 L523.74 662.87 L524.14 661.33 L524.55 659.79 L524.95 658.25 L525.36 656.72 L525.77 655.19 L526.17 653.66 L526.58 652.14 L527.00 650.63 L527.41 649.11 L527.82 647.61 L528.24 646.10 L528.65 644.61 L529.07 643.11 L529.49 641.62 L529.91 640.14 L530.33 638.66 L530.75 637.18 L531.17 635.71 L531.60 634.24 L532.02 632.78 L532.45 631.32 L532.88 629.87 L533.31 628.42 L533.74 626.98 L534.17 625.54 L534.60 624.11 L535.03 622.68 L535.47 621.25 L535.91 619.83 L536.34 618.42 L536.78 617.01 L537.22 615.61 L537.66 614.21 L538.10 612.81 L538.55 611.42 L538.99 610.04 L539.44 608.66 L539.89 607.28 L540.33 605.91 L540.78 604.55 L541.23 603.19 L541.68 601.83 L542.14 600.48 L542.59 599.14 L543.05 597.80 L543.50 596.47 L543.96 595.14 L544.42 593.81 L544.88 592.49 L545.34 591.18 L545.80 589.87 L546.26 588.57 L546.73 587.27 L547.19 585.98 L547.66 584.69 L548.13 583.41 L548.59 582.13 L549.06 580.86 L549.53 579.59 L550.01 578.33 L550.48 577.07 L550.95 575.82 L551.43 574.57 L551.91 573.33 L552.38 572.10 L552.86 570.87 L553.34 569.64 L553.82 568.42 L554.30 567.21 L554.79 566.00 L555.27 564.79 L555.76 563.60 L556.24 562.40 L556.73 561.21 L557.22 560.03 L557.71 558.85 L558.20 557.68 L558.69 556.51 L559.18 555.35 L559.68 554.20 L560.17 553.05 L560.67 551.90 L561.17 550.76 L561.67 549.62 L562.16 548.49 L562.67 547.37 L563.17 546.25 L563.67 545.13 L564.17 544.02 L564.68 542.92 L565.18 541.82 L565.69 540.73 L566.20 539.64 L566.71 538.56 L567.22 537.48 L567.73 536.41 L568.24 535.34 L568.76 534.28 L569.27 533.22 L569.79 532.17 L570.30 531.12 L570.82 530.08 L571.34 529.04 L571.86 528.01 L572.38 526.99 L572.90 525.97 L573.42 524.95 L573.95 523.94 L574.47 522.94 L575.00 521.94 L575.52 520.94 L576.05 519.95 L576.58 518.97 L577.11 517.99 L577.64 517.01 L578.18 516.04 L578.71 515.08 L579.24 514.12 L579.78 513.16 L580.31 512.22 L580.85 511.27 L581.39 510.33 L581.93 509.40 L582.47 508.47 L583.01 507.54 L583.55 506.62 L584.10 505.71 L584.64 504.80 L585.19 503.90 L585.73 503.00 L586.28 502.10 L586.83 501.21 L587.38 500.33 L587.93 499.45 L588.48 498.57 L589.04 497.70 L589.59 496.84 L590.14 495.98 L590.70 495.12 L591.26 494.27 L591.81 493.42 L592.37 492.58 L592.93 491.75 L593.49 490.91 L594.05 490.09 L594.62 489.27 L595.18 488.45 L595.75 487.64 L596.31 486.83 L596.88 486.02 L597.45 485.22 L598.01 484.43 L598.58 483.64 L599.15 482.86 L599.73 482.08 L600.30 481.30 L600.87 480.53 L601.45 479.76 L602.02 479.00 L602.60 478.24 L603.18 477.49 L603.76 476.74 L604.33 476.00 L604.92 475.26 L605.50 474.52 L606.08 473.79 L606.66 473.07 L607.25 472.35 L607.83 471.63 L608.42 470.91 L609.01 470.21 L609.59 469.50 L610.18 468.80 L610.77 468.11 L611.36 467.42 L611.96 466.73 L612.55 466.05 L613.14 465.37 L613.74 464.69 L614.33 464.02 L614.93 463.36 L615.53 462.70 L616.13 462.04 L616.73 461.39 L617.33 460.74 L617.93 460.09 L618.53 459.45 L619.14 458.82 L619.74 458.19 L620.35 457.56 L620.95 456.93 L621.56 456.31 L622.17 455.70 L622.78 455.08 L623.39 454.48 L624.00 453.87 L624.61 453.27 L625.23 452.68 L625.84 452.08 L626.45 451.50 L627.07 450.91 L627.69 450.33 L628.30 449.75 L628.92 449.18 L629.54 448.61 L630.16 448.05 L630.78 447.49 L631.41 446.93 L632.03 446.38 L632.66 445.83 L633.28 445.28 L633.91 444.74 L634.53 444.20 L635.16 443.66 L635.79 443.13 L636.42 442.61 L637.05 442.08 L637.68 441.56 L638.32 441.04 L638.95 440.53 L639.58 440.02 L640.22 439.52 L640.86 439.01 L641.49 438.52 L642.13 438.02 L642.77 437.53 L643.41 437.04 L644.05 436.56 L644.69 436.07 L645.34 435.60 L645.98 435.12 L646.62 434.65 L647.27 434.18 L647.92 433.72 L648.56 433.26 L649.21 432.80 L649.86 432.35 L650.51 431.90 L651.16 431.45 L651.81 431.00 L652.47 430.56 L653.12 430.13 L653.77 429.69 L654.43 429.26 L655.09 428.83 L655.74 428.41 L656.40 427.99 L657.06 427.57 L657.72 427.15 L658.38 426.74 L659.04 426.33 L659.71 425.93 L660.37 425.52 L661.03 425.12 L661.70 424.73 L662.36 424.33 L663.03 423.94 L663.70 423.56 L664.37 423.17 L665.04 422.79 L665.71 422.41 L666.38 422.03 L667.05 421.66 L667.73 421.29 L668.40 420.93 L669.08 420.56 L669.75 420.20 L670.43 419.84 L671.11 419.49 L671.78 419.13 L672.46 418.78 L673.14 418.44 L673.83 418.09 L674.51 417.75 L675.19 417.41 L675.87 417.08 L676.56 416.74 L677.24 416.41 L677.93 416.09 L678.62 415.76 L679.31 415.44 L680.00 415.12 L680.69 414.80 L681.38 414.49 L682.07 414.18 L682.76 413.87 L683.45 413.56 L684.15 413.26 L684.84 412.96 L685.54 412.66 L686.24 412.36 L686.93 412.07 L687.63 411.78 L688.33 411.49 L689.03 411.20 L689.73 410.92 L690.44 410.64 L691.14 410.36 L691.84 410.08 L692.55 409.81 L693.25 409.53 L693.96 409.26 L694.67 409.00 L695.37 408.73 L696.08 408.47 L696.79 408.21 L697.50 407.95 L698.22 407.70 L698.93 407.44 L699.64 407.19 L700.36 406.95 L701.07 406.70 L701.79 406.46 L702.50 406.21 L703.22 405.97 L703.94 405.74 L704.66 405.50 L705.38 405.27 L706.10 405.04 L706.82 404.81 L707.54 404.58 L708.27 404.36 L708.99 404.14 L709.72 403.92 L710.44 403.70 L711.17 403.48 L711.90 403.27 L712.62 403.06 L713.35 402.85 L714.08 402.64 L714.81 402.43 L715.55 402.23 L716.28 402.03 L717.01 401.83 L717.75 401.63 L718.48 401.43 L719.22 401.24 L719.95 401.05 L720.69 400.86 L721.43 400.67 L722.17 400.48 L722.91 400.30 L723.65 400.12 L724.39 399.93 L725.14 399.76 L725.88 399.58 L726.62 399.40 L727.37 399.23 L728.11 399.06 L728.86 398.89 L729.61 398.72 L730.36 398.55 L731.11 398.39 L731.86 398.23 L732.61 398.07 L733.36 397.91 L734.11 397.75 L734.86 397.59 L735.62 397.44 L736.37 397.29 L737.13 397.14 L737.89 396.99 L738.64 396.84 L739.40 396.69 L740.16 396.55 L740.92 396.41 L741.68 396.27 L742.44 396.13 L743.21 395.99 L743.97 395.85 L744.73 395.72 L745.50 395.58 L746.26 395.45 L747.03 395.32 L747.80 395.19 L748.56 395.07 L749.33 394.94 L750.10 394.82 L750.87 394.69 L751.65 394.57 L752.42 394.45 L753.19 394.34 L753.96 394.22 L754.74 394.10 L755.51 393.99 L756.29 393.88 L757.07 393.77 L757.84 393.66 L758.62 393.55 L759.40 393.44 L760.18 393.34 L760.96 393.23 L761.74 393.13 L762.53 393.03 L763.31 392.93 L764.09 392.83 L764.88 392.73 L765.67 392.64 L766.45 392.54 L767.24 392.45 L768.03 392.35 L768.82 392.26 L769.61 392.17 L770.40 392.09 L771.19 392.00 L771.98 391.91 L772.77 391.83 L773.57 391.74 L774.36 391.66 L775.16 391.58 L775.95 391.50 L776.75 391.42 L777.55 391.34 L778.35 391.27 L779.14 391.19 L779.94 391.12 L780.75 391.04 L781.55 390.97 L782.35 390.90 L783.15 390.83 L783.96 390.76 L784.76 390.70 L785.57 390.63 L786.37 390.56 L787.18 390.50 L787.99 390.44 L788.80 390.37 L789.61 390.31 L790.42 390.25 L791.23 390.19 L792.04 390.14 L792.85 390.08 L793.67 390.02 L794.48 389.97 L795.29 389.91 L796.11 389.86 L796.93 389.81 L797.74 389.76 L798.56 389.71 L799.38 389.66 L800.20 389.61 L801.02 389.56 L801.84 389.52 L802.66 389.47 L803.49 389.43 L804.31 389.38 L805.13 389.34 L805.96 389.30 L806.78 389.26 L807.61 389.22 L808.44 389.18 L809.27 389.14 L810.10 389.10 L810.92 389.07 L811.76 389.03 L812.59 389.00 L813.42 388.96 L814.25 388.93 L815.08 388.90 L815.92 388.87 L816.75 388.84 L817.59 388.81 L818.43 388.78 L819.26 388.75 L820.10 388.72 L820.94 388.69 L821.78 388.67 L822.62 388.64 L823.46 388.62 L824.30 388.60 L825.15 388.57 L825.99 388.55 L826.83 388.53 L827.68 388.51 L828.52 388.49 L829.37 388.47 L830.22 388.45 L831.07 388.43 L831.91 388.42 L832.76 388.40 L833.61 388.38 L834.46 388.37 L835.32 388.35 L836.17 388.34 L837.02 388.33 L837.88 388.31 L838.73 388.30 L839.59 388.29 L840.44 388.28 L841.30 388.27 L842.16 388.26 L843.02 388.25 L843.88 388.24 L844.74 388.24 L845.60 388.23 L846.46 388.22 L847.32 388.22 L848.18 388.21 L849.05 388.21 L849.91 388.21 L850.78 388.20 L851.64 388.20 L852.51 388.20 L853.38 388.20 L854.25 388.19 L855.11 388.19 L855.98 388.19 L856.86 388.19 L857.73 388.20 L858.60 388.20 L859.47 388.20 L860.34 388.20 L861.22 388.20 L862.09 388.21 L862.97 388.21 L863.85 388.22 L864.72 388.22 L865.60 388.23 L866.48 388.23 L867.36 388.24 L868.24 388.25 L869.12 388.25 L870.00 388.26 L870.88 388.27 L871.77 388.28 L872.65 388.29 L873.54 388.30 L874.42 388.31 L875.31 388.32 L876.19 388.33 L877.08 388.34 L877.97 388.35 L878.86 388.37 L879.75 388.38 L880.64 388.39 L881.53 388.41 L882.42 388.42 L883.32 388.43 L884.21 388.45 L885.10 388.46 L886.00 388.48 L886.89 388.49 L887.79 388.51 L888.69 388.53 L889.59 388.54 L890.48 388.56 L891.38 388.58 L892.28 388.60 L893.18 388.62 L894.09 388.63 L894.99 388.65 L895.89 388.67 L896.79 388.69 L897.70 388.71 L898.60 388.73 L899.51 388.75 L900.42 388.77 L901.32 388.80 L902.23 388.82 L903.14 388.84 L904.05 388.86 L904.96 388.88 L905.87 388.91 L906.78 388.93 L907.69 388.95 L908.61 388.98 L909.52 389.00 L910.44 389.02 L911.35 389.05 L912.27 389.07 L913.18 389.10 L914.10 389.12 L915.02 389.15 L915.94 389.17 L916.86 389.20 L917.78 389.23 L918.70 389.25 L919.62 389.28 L920.54 389.31 L921.47 389.33 L922.39 389.36 L923.32 389.39 L924.24 389.42 L925.17 389.45 L926.09 389.47 L927.02 389.50 L927.95 389.53 L928.88 389.56 L929.81 389.59 L930.74 389.62 L931.67 389.65 L932.60 389.68 L933.53 389.71 L934.47 389.74 L935.40 389.77 L936.33 389.80 L937.27 389.83 L938.21 389.86 L939.14 389.89 L940.08 389.92 L941.02 389.95 L941.96 389.98 L942.90 390.02 L943.84 390.05 L944.78 390.08 L945.72 390.11 L946.66 390.14 L947.61 390.18 L948.55 390.21 L949.49 390.24 L950.44 390.27 L951.38 390.31 L952.33 390.34 L953.28 390.37 L954.23 390.41 L955.18 390.44 L956.12 390.47 L957.08 390.51 L958.03 390.54 L958.98 390.57 L959.93 390.61 L960.88 390.64 L961.84 390.68 L962.79 390.71 L963.75 390.74 L964.70 390.78 L965.66 390.81 L966.62 390.85 L967.57 390.88 L968.53 390.92 L969.49 390.95 L970.45 390.99 L971.41 391.02 L972.37 391.06 L973.33 391.09 L974.30 391.13 L975.26 391.16 L976.23 391.20 L977.19 391.23 L978.16 391.27 L979.12 391.30 L980.09 391.34 L981.06 391.38 L982.02 391.41 L982.99 391.45 L983.96 391.48 L984.93 391.52 L985.90 391.56 L986.88 391.59 L987.85 391.63 L988.82 391.66 L989.80 391.70 L990.77 391.74 L991.75 391.77 L992.72 391.81 L993.70 391.84 L994.68 391.88 L995.65 391.92 L996.63 391.95 L997.61 391.99 L998.59 392.02 L999.57 392.06 L1000.55 392.10 L1001.54 392.13 L1002.52 392.17 L1003.50 392.21 L1004.49 392.24 L1005.47 392.28 L1006.46 392.32 L1007.44 392.35 L1008.43 392.39 L1009.42 392.42 L1010.41 392.46 L1011.40 392.50 L1012.39 392.53 L1013.38 392.57 L1014.37 392.61 L1015.36 392.64 L1016.35 392.68 L1017.34 392.71 L1018.34 392.75 L1019.33 392.79 L1020.33 392.82 L1021.32 392.86 L1022.32 392.90 L1023.32 392.93 L1024.32 392.97 L1025.31 393.00 L1026.31 393.04 L1027.31 393.08 L1028.31 393.11 L1029.31 393.15 L1030.32 393.18 L1031.32 393.22 L1032.32 393.25 L1033.33 393.29 L1034.33 393.33 L1035.34 393.36 L1036.34 393.40 L1037.35 393.43 L1038.36 393.47 L1039.36 393.50 L1040.37 393.54 L1041.38 393.57 L1042.39 393.61 L1043.40 393.64 L1044.42 393.68 L1045.43 393.71 L1046.44 393.75 L1047.45 393.78 L1048.47 393.82 L1049.48 393.85 L1050.50 393.89 L1051.51 393.92 L1052.53 393.96 L1053.55 393.99 L1054.57 394.02 L1055.59 394.06 L1056.61 394.09 L1057.63 394.13 L1058.65 394.16 L1059.67 394.19 L1060.69 394.23 L1061.71 394.26 L1062.74 394.30 L1063.76 394.33 L1064.79 394.36 L1065.81 394.40 L1066.84 394.43 L1067.86 394.46 L1068.89 394.49 L1069.92 394.53 L1070.95 394.56 L1071.98 394.59 L1073.01 394.63 L1074.04 394.66 L1075.07 394.69 L1076.10 394.72 L1077.14 394.76 L1078.17 394.79 L1079.20 394.82 L1080.24 394.85 L1081.27 394.88 L1082.31 394.91 L1083.35 394.95 L1084.38 394.98 L1085.42 395.01 L1086.46 395.04 L1087.50 395.07 L1088.54 395.10 L1089.58 395.13 L1090.62 395.16 L1091.67 395.19 L1092.71 395.22 L1093.75 395.25 L1094.80 395.28 L1095.84 395.31 L1096.89 395.34 L1097.93 395.37 L1098.98 395.40 L1100.03 395.43 L1101.08 395.46 L1102.12 395.49 L1103.17 395.52 L1104.22 395.55 L1105.27 395.58 L1106.33 395.61 L1107.38 395.64 L1108.43 395.67 L1109.48 395.69 L1110.54 395.72 L1111.59 395.75 L1112.65 395.78 L1113.70 395.81 L1114.76 395.83 L1115.82 395.86 L1116.88 395.89 L1117.93 395.91 L1118.99 395.94 L1120.05 395.97 L1121.11 396.00 L1122.18 396.02 L1123.24 396.05 L1124.30 396.07 L1125.36 396.10 L1126.43 396.13 L1127.49 396.15 L1128.56 396.18 L1129.62 396.20 L1130.69 396.23 L1131.76 396.25 L1132.82 396.28 L1133.89 396.30 L1134.96 396.33 L1136.03 396.35 L1137.10 396.38 L1138.17 396.40 L1139.24 396.43 L1140.32 396.45 L1141.39 396.47 L1142.46 396.50 L1143.54 396.52 L1144.61 396.54 L1145.69 396.57 L1146.76 396.59 L1147.84 396.61 L1148.92 396.63 L1150.00 396.66 L1151.07 396.68 L1152.15 396.70 L1153.23 396.72 L1154.31 396.74 L1155.40 396.77 L1156.48 396.79 L1157.56 396.81 L1158.64 396.83 L1159.73 396.85 L1160.81 396.87 L1161.90 396.89 L1162.98 396.91 L1164.07 396.93 L1165.16 396.95 L1166.25 396.97 L1167.33 396.99 L1168.42 397.01 L1169.51 397.03 L1170.60 397.05 L1171.69 397.07 L1172.79 397.08 L1173.88 397.10 L1174.97 397.12 L1176.06 397.14 L1177.16 397.16 L1178.25 397.17 L1179.35 397.19 L1180.44 397.21 L1181.54 397.23 L1182.64 397.24 L1183.74 397.26 L1184.84 397.28 L1185.93 397.29 L1187.03 397.31 L1188.14 397.32 L1189.24 397.34 L1190.34 397.36 L1191.44 397.37 L1192.54 397.39 L1193.65 397.40 L1194.75 397.42 L1195.86 397.43 L1196.96 397.45 L1198.07 397.46 L1199.18 397.47 L1200.28 397.49 L1201.39 397.50 L1202.50 397.51 L1203.61 397.53 L1204.72 397.54 L1205.83 397.55 L1206.94 397.57 L1208.06 397.58 L1209.17 397.59 L1210.28 397.60 L1211.40 397.61 L1212.51 397.63 L1213.62 397.64 L1214.74 397.65 L1215.86 397.66 L1216.97 397.67 L1218.09 397.68 L1219.21 397.69 L1220.33 397.70 L1221.45 397.71 L1222.57 397.72 L1223.69 397.73 L1224.81 397.74 L1225.93 397.75 L1227.06 397.76 L1228.18 397.77 L1229.30 397.77 L1230.43 397.78 L1231.55 397.79 L1232.68 397.80 L1233.81 397.81 L1234.93 397.81 L1236.06 397.82 L1237.19 397.83 L1238.32 397.83 L1239.45 397.84 L1240.58 397.85 L1241.71 397.85 L1242.84 397.86 L1243.97 397.87 L1245.11 397.87 L1246.24 397.88 L1247.37 397.88 L1248.51 397.89 L1249.64 397.89 L1250.78 397.89 L1251.92 397.90 L1253.05 397.90 L1254.19 397.91 L1255.33 397.91 L1256.47 397.91 L1257.61 397.92 L1258.75 397.92 L1259.89 397.92 L1261.03 397.92 L1262.17 397.93 L1263.32 397.93 L1264.46 397.93 L1265.60 397.93 L1266.75 397.93 L1267.89 397.94 L1269.04 397.94 L1270.19 397.94 L1271.33 397.94 L1272.48 397.94 L1273.63 397.94 L1274.78 397.94 L1275.93 397.94 L1277.08 397.94 L1278.23 397.94 L1279.38 397.93 L1280.53 397.93 L1281.69 397.93 L1282.84 397.93 L1283.99 397.93 L1285.15 397.93 L1286.30 397.92 L1287.46 397.92 L1288.61 397.92 L1289.77 397.92 L1290.93 397.91 L1292.09 397.91 L1293.25 397.90 L1294.41 397.90 L1295.57 397.90 L1296.73 397.89 L1297.89 397.89 L1299.05 397.88 L1300.21 397.88 L1301.38 397.87 L1302.54 397.87 L1303.70 397.86 L1304.87 397.85 L1306.03 397.85 L1307.20 397.84 L1308.37 397.84 L1309.54 397.83 L1310.70 397.82 L1311.87 397.81 L1313.04 397.81 L1314.21 397.80 L1315.38 397.79 L1316.55 397.78 L1317.72 397.77 L1318.90 397.77 L1320.07 397.76 L1321.24 397.75 L1322.42 397.74 L1323.59 397.73 L1324.77 397.72 L1325.94 397.71 L1327.12 397.70 L1328.30 397.69 L1329.48 397.68 L1330.65 397.67 L1331.83 397.65 L1333.01 397.64 L1334.19 397.63 L1335.37 397.62 L1336.56 397.61 L1337.74 397.60 L1338.92 397.58 L1340.10 397.57 L1341.29 397.56 L1342.47 397.54 L1343.66 397.53 L1344.84 397.52 L1346.03 397.50 L1347.22 397.49 L1348.41 397.47 L1349.59 397.46 L1350.78 397.44 L1351.97 397.43 L1353.16 397.41 L1354.35 397.40 L1355.54 397.38 L1356.74 397.37 L1357.93 397.35 L1359.12 397.33 L1360.31 397.32 L1361.51 397.30 L1362.70 397.28 L1363.90 397.26 L1365.10 397.25 L1366.29 397.23 L1367.49 397.21 L1368.69 397.19 L1369.89 397.17 L1371.08 397.15 L1372.28 397.14 L1373.48 397.12 L1374.69 397.10 L1375.89 397.08 L1377.09 397.06 L1378.29 397.04 L1379.50 397.02 L1380.70 397.00 L1381.90 396.97 L1383.11 396.95 L1384.31 396.93 L1385.52 396.91 L1386.73 396.89 L1387.93 396.87 L1389.14 396.84 L1390.35 396.82 L1391.56 396.80 L1392.77 396.78 L1393.98 396.75 L1395.19 396.73 L1396.40 396.71 L1397.62 396.68 L1398.83 396.66 L1400.04 396.63 L1401.26 396.61 L1402.47 396.58 L1403.69 396.56 L1404.90 396.53 L1406.12 396.51 L1407.34 396.48 L1408.55 396.46 L1409.77 396.43 L1410.99 396.40 L1412.21 396.38 L1413.43 396.35 L1414.65 396.32 L1415.87 396.29 L1417.09 396.27 L1418.32 396.24 L1419.54 396.21 L1420.76 396.18 L1421.99 396.15 L1423.21 396.12 L1424.44 396.10 L1425.66 396.07 L1426.89 396.04 L1428.12 396.01 L1429.35 395.98 L1430.57 395.95 L1431.80 395.92 L1433.03 395.89 L1434.26 395.85 L1435.49 395.82 L1436.72 395.79 L1437.96 395.76 L1439.19 395.73 L1440.42 395.70 L1441.66 395.66 L1442.89 395.63 L1444.12 395.60 L1445.36 395.57 L1446.60 395.53 L1447.83 395.50 L1449.07 395.46 L1450.31 395.43 L1451.55 395.40 L1452.79 395.36 L1454.03 395.33 L1455.27 395.29 L1456.51 395.26 L1457.75 395.22 L1458.99 395.19 L1460.23 395.15 L1461.47 395.11 L1462.72 395.08 L1463.96 395.04 L1465.21 395.01 L1466.45 394.97 L1467.70 394.93 L1468.95 394.89 L1470.19 394.86 L1471.44 394.82 L1472.69 394.78 L1473.94 394.74 L1475.19 394.70 L1476.44 394.66 L1477.69 394.62 L1478.94 394.59 L1480.19 394.55 L1481.44 394.51 L1482.70 394.47 L1483.95 394.43 L1485.21 394.39 L1486.46 394.34 L1487.72 394.30 L1488.97 394.26 L1490.23 394.22 L1491.49 394.18 L1492.74 394.14 L1494.00 394.10 L1495.26 394.05 L1496.52 394.01 L1497.78 393.97 L1499.04 393.93 L1500.30 393.88 L1501.56 393.84 L1502.83 393.80 L1504.09 393.75 L1505.35 393.71 L1506.62 393.66 L1507.88 393.62 L1509.15 393.57 L1510.41 393.53 L1511.68 393.48 L1512.95 393.44 L1514.21 393.39 L1515.48 393.35 L1516.75 393.30 L1518.02 393.25 L1519.29 393.21 L1520.56 393.16 L1521.83 393.11 L1523.10 393.06 L1524.38 393.02 L1525.65 392.97 L1526.92 392.92 L1528.20 392.87 L1529.47 392.82 L1530.75 392.78 L1532.02 392.73 L1533.30 392.68 L1534.58 392.63 L1535.85 392.58 L1537.13 392.53 L1538.41 392.48 L1539.69 392.43 L1540.97 392.38 L1542.25 392.33 L1543.53 392.28 L1544.81 392.22 L1546.09 392.17 L1547.38 392.12 L1548.66 392.07 L1549.94 392.02 L1551.23 391.97 L1552.51 391.91 L1553.80 391.86 L1555.09 391.81 L1556.37 391.75 L1557.66 391.70 L1558.95 391.65 L1560.24 391.59 L1561.52 391.54 L1562.81 391.48 L1564.10 391.43 L1565.40 391.37 L1566.69 391.32 L1567.98 391.26 L1569.27 391.21 L1570.56 391.15 L1571.86 391.10 L1573.15 391.04 L1574.45 390.98 L1575.74 390.93 L1577.04 390.87 L1578.33 390.81 L1579.63 390.76 L1580.93 390.70 L1582.23 390.64 L1583.53 390.58 L1584.82 390.52 L1586.12 390.47 L1587.43 390.41 L1588.73 390.35 L1590.03 390.29 L1591.33 390.23 L1592.63 390.17 L1593.94 390.11 L1595.24 390.05 L1596.54 389.99 L1597.85 389.93 L1599.15 389.87 L1600.46 389.81 L1601.77 389.75 L1603.07 389.69 L1604.38 389.62 L1605.69 389.56 L1607.00 389.50 L1608.31 389.44 L1609.62 389.38 L1610.93 389.31 L1612.24 389.25 L1613.55 389.19 L1614.87 389.12 L1616.18 389.06 L1617.49 389.00 L1618.81 388.93 L1620.12 388.87 L1621.44 388.80 L1622.75 388.74 L1624.07 388.67 L1625.39 388.61 L1626.70 388.54 L1628.02 388.48 L1629.34 388.41" stroke="#ff0000" stroke-width="4.9" stroke-dasharray="7.385 3.691" stroke-dashoffset="0"/>
<path d="M439.52 935.22 L439.53 935.11 L439.56 934.89 L439.59 934.59 L439.63 934.23 L439.67 933.80 L439.72 933.32 L439.77 932.79 L439.83 932.22 L439.89 931.59 L439.96 930.93 L440.03 930.23 L440.11 929.49 L440.19 928.71 L440.27 927.89 L440.36 927.04 L440.45 926.16 L440.55 925.25 L440.65 924.30 L440.75 923.33 L440.85 922.32 L440.96 921.29 L441.07 920.23 L441.19 919.14 L441.30 918.02 L441.42 916.88 L441.55 915.71 L441.67 914.52 L441.80 913.31 L441.93 912.07 L442.07 910.81 L442.20 909.53 L442.34 908.22 L442.48 906.89 L442.63 905.55 L442.78 904.18 L442.93 902.79 L443.08 901.38 L443.23 899.96 L443.39 898.51 L443.55 897.05 L443.71 895.56 L443.88 894.07 L444.04 892.55 L444.21 891.02 L444.39 889.47 L444.56 887.90 L444.74 886.32 L444.91 884.73 L445.10 883.12 L445.28 881.49 L445.46 879.85 L445.65 878.20 L445.84 876.53 L446.03 874.85 L446.23 873.15 L446.42 871.45 L446.62 869.73 L446.82 868.00 L447.02 866.26 L447.23 864.50 L447.43 862.74 L447.64 860.96 L447.85 859.17 L448.07 857.38 L448.28 855.57 L448.50 853.75 L448.72 851.93 L448.94 850.09 L449.16 848.25 L449.38 846.39 L449.61 844.53 L449.84 842.66 L450.07 840.78 L450.30 838.89 L450.53 837.00 L450.77 835.10 L451.01 833.19 L451.25 831.27 L451.49 829.35 L451.73 827.42 L451.98 825.49 L452.22 823.55 L452.47 821.60 L452.72 819.65 L452.97 817.69 L453.23 815.72 L453.48 813.76 L453.74 811.78 L454.00 809.81 L454.26 807.82 L454.53 805.84 L454.79 803.85 L455.06 801.86 L455.32 799.86 L455.59 797.86 L455.87 795.85 L456.14 793.85 L456.41 791.84 L456.69 789.82 L456.97 787.81 L457.25 785.79 L457.53 783.77 L457.81 781.75 L458.10 779.73 L458.39 777.70 L458.67 775.67 L458.96 773.65 L459.26 771.62 L459.55 769.59 L459.84 767.55 L460.14 765.52 L460.44 763.49 L460.74 761.46 L461.04 759.42 L461.34 757.39 L461.65 755.35 L461.95 753.32 L462.26 751.29 L462.57 749.25 L462.88 747.22 L463.19 745.19 L463.50 743.16 L463.82 741.13 L464.14 739.10 L464.45 737.07 L464.77 735.05 L465.10 733.02 L465.42 731.00 L465.74 728.98 L466.07 726.96 L466.40 724.94 L466.73 722.92 L467.06 720.91 L467.39 718.89 L467.72 716.88 L468.06 714.88 L468.39 712.87 L468.73 710.87 L469.07 708.87 L469.41 706.88 L469.75 704.88 L470.10 702.89 L470.44 700.91 L470.79 698.92 L471.14 696.94 L471.49 694.96 L471.84 692.99 L472.19 691.02 L472.54 689.05 L472.90 687.09 L473.26 685.13 L473.61 683.18 L473.97 681.23 L474.33 679.28 L474.70 677.34 L475.06 675.40 L475.43 673.47 L475.79 671.54 L476.16 669.61 L476.53 667.69 L476.90 665.78 L477.27 663.87 L477.65 661.96 L478.02 660.06 L478.40 658.17 L478.77 656.27 L479.15 654.39 L479.53 652.51 L479.92 650.63 L480.30 648.76 L480.68 646.90 L481.07 645.04 L481.46 643.18 L481.84 641.33 L482.23 639.49 L482.63 637.65 L483.02 635.82 L483.41 633.99 L483.81 632.17 L484.20 630.36 L484.60 628.55 L485.00 626.75 L485.40 624.95 L485.80 623.16 L486.21 621.37 L486.61 619.59 L487.02 617.82 L487.42 616.05 L487.83 614.29 L488.24 612.54 L488.65 610.79 L489.06 609.05 L489.48 607.31 L489.89 605.58 L490.31 603.86 L490.73 602.14 L491.14 600.43 L491.56 598.73 L491.99 597.03 L492.41 595.34 L492.83 593.66 L493.26 591.98 L493.68 590.31 L494.11 588.65 L494.54 586.99 L494.97 585.34 L495.40 583.69 L495.83 582.06 L496.27 580.43 L496.70 578.80 L497.14 577.19 L497.58 575.58 L498.01 573.97 L498.45 572.38 L498.90 570.79 L499.34 569.21 L499.78 567.63 L500.23 566.06 L500.67 564.50 L501.12 562.95 L501.57 561.40 L502.02 559.86 L502.47 558.33 L502.92 556.80 L503.37 555.28 L503.83 553.77 L504.29 552.27 L504.74 550.77 L505.20 549.28 L505.66 547.79 L506.12 546.32 L506.58 544.85 L507.05 543.39 L507.51 541.93 L507.98 540.48 L508.44 539.04 L508.91 537.61 L509.38 536.18 L509.85 534.76 L510.32 533.35 L510.79 531.94 L511.27 530.54 L511.74 529.15 L512.22 527.77 L512.70 526.39 L513.17 525.02 L513.65 523.66 L514.13 522.30 L514.62 520.96 L515.10 519.61 L515.58 518.28 L516.07 516.95 L516.56 515.63 L517.04 514.32 L517.53 513.02 L518.02 511.72 L518.51 510.43 L519.01 509.14 L519.50 507.86 L519.99 506.59 L520.49 505.33 L520.99 504.07 L521.48 502.83 L521.98 501.58 L522.48 500.35 L522.99 499.12 L523.49 497.90 L523.99 496.69 L524.50 495.48 L525.00 494.28 L525.51 493.09 L526.02 491.90 L526.53 490.72 L527.04 489.55 L527.55 488.38 L528.06 487.23 L528.58 486.07 L529.09 484.93 L529.61 483.79 L530.12 482.66 L530.64 481.54 L531.16 480.42 L531.68 479.31 L532.20 478.21 L532.73 477.11 L533.25 476.02 L533.77 474.94 L534.30 473.86 L534.83 472.79 L535.36 471.73 L535.89 470.67 L536.42 469.62 L536.95 468.58 L537.48 467.54 L538.01 466.51 L538.55 465.49 L539.08 464.47 L539.62 463.46 L540.16 462.46 L540.70 461.46 L541.24 460.47 L541.78 459.49 L542.32 458.51 L542.86 457.54 L543.41 456.57 L543.95 455.61 L544.50 454.66 L545.05 453.72 L545.60 452.78 L546.15 451.84 L546.70 450.92 L547.25 450.00 L547.80 449.08 L548.36 448.18 L548.91 447.27 L549.47 446.38 L550.03 445.49 L550.58 444.61 L551.14 443.73 L551.70 442.86 L552.27 441.99 L552.83 441.13 L553.39 440.28 L553.96 439.44 L554.52 438.60 L555.09 437.76 L555.66 436.93 L556.22 436.11 L556.79 435.29 L557.37 434.48 L557.94 433.68 L558.51 432.88 L559.08 432.08 L559.66 431.30 L560.23 430.51 L560.81 429.74 L561.39 428.97 L561.97 428.20 L562.55 427.45 L563.13 426.69 L563.71 425.94 L564.30 425.20 L564.88 424.47 L565.47 423.74 L566.05 423.01 L566.64 422.29 L567.23 421.58 L567.82 420.87 L568.41 420.16 L569.00 419.47 L569.59 418.77 L570.18 418.09 L570.78 417.41 L571.37 416.73 L571.97 416.06 L572.57 415.39 L573.17 414.73 L573.77 414.08 L574.37 413.43 L574.97 412.78 L575.57 412.14 L576.17 411.51 L576.78 410.88 L577.38 410.26 L577.99 409.64 L578.60 409.02 L579.21 408.41 L579.82 407.81 L580.43 407.21 L581.04 406.62 L581.65 406.03 L582.26 405.44 L582.88 404.86 L583.49 404.29 L584.11 403.72 L584.73 403.15 L585.35 402.59 L585.96 402.04 L586.58 401.49 L587.21 400.94 L587.83 400.40 L588.45 399.86 L589.08 399.33 L589.70 398.80 L590.33 398.28 L590.95 397.76 L591.58 397.25 L592.21 396.74 L592.84 396.24 L593.47 395.74 L594.11 395.24 L594.74 394.75 L595.37 394.26 L596.01 393.78 L596.64 393.30 L597.28 392.83 L597.92 392.36 L598.56 391.89 L599.20 391.43 L599.84 390.98 L600.48 390.52 L601.12 390.08 L601.77 389.63 L602.41 389.19 L603.06 388.76 L603.70 388.33 L604.35 387.90 L605.00 387.47 L605.65 387.06 L606.30 386.64 L606.95 386.23 L607.60 385.82 L608.25 385.42 L608.91 385.02 L609.56 384.62 L610.22 384.23 L610.88 383.84 L611.54 383.46 L612.19 383.08 L612.85 382.70 L613.51 382.33 L614.18 381.96 L614.84 381.60 L615.50 381.24 L616.17 380.88 L616.83 380.52 L617.50 380.17 L618.17 379.83 L618.83 379.48 L619.50 379.14 L620.17 378.81 L620.85 378.48 L621.52 378.15 L622.19 377.82 L622.86 377.50 L623.54 377.18 L624.21 376.87 L624.89 376.55 L625.57 376.25 L626.25 375.94 L626.93 375.64 L627.61 375.34 L628.29 375.05 L628.97 374.76 L629.65 374.47 L630.34 374.18 L631.02 373.90 L631.71 373.62 L632.40 373.35 L633.08 373.07 L633.77 372.80 L634.46 372.54 L635.15 372.28 L635.84 372.02 L636.54 371.76 L637.23 371.51 L637.92 371.26 L638.62 371.01 L639.31 370.76 L640.01 370.52 L640.71 370.28 L641.41 370.05 L642.11 369.81 L642.81 369.58 L643.51 369.36 L644.21 369.13 L644.92 368.91 L645.62 368.69 L646.32 368.48 L647.03 368.27 L647.74 368.06 L648.44 367.85 L649.15 367.64 L649.86 367.44 L650.57 367.24 L651.28 367.05 L652.00 366.85 L652.71 366.66 L653.42 366.47 L654.14 366.29 L654.86 366.10 L655.57 365.92 L656.29 365.74 L657.01 365.57 L657.73 365.39 L658.45 365.22 L659.17 365.06 L659.89 364.89 L660.61 364.73 L661.34 364.57 L662.06 364.41 L662.79 364.25 L663.51 364.10 L664.24 363.95 L664.97 363.80 L665.70 363.65 L666.43 363.51 L667.16 363.36 L667.89 363.22 L668.62 363.09 L669.36 362.95 L670.09 362.82 L670.83 362.69 L671.56 362.56 L672.30 362.43 L673.04 362.31 L673.78 362.19 L674.52 362.07 L675.26 361.95 L676.00 361.83 L676.74 361.72 L677.49 361.61 L678.23 361.50 L678.97 361.39 L679.72 361.29 L680.47 361.18 L681.21 361.08 L681.96 360.98 L682.71 360.89 L683.46 360.79 L684.21 360.70 L684.97 360.60 L685.72 360.52 L686.47 360.43 L687.23 360.34 L687.98 360.26 L688.74 360.18 L689.49 360.10 L690.25 360.02 L691.01 359.94 L691.77 359.87 L692.53 359.79 L693.29 359.72 L694.06 359.65 L694.82 359.59 L695.58 359.52 L696.35 359.46 L697.11 359.39 L697.88 359.33 L698.65 359.27 L699.41 359.22 L700.18 359.16 L700.95 359.11 L701.72 359.05 L702.50 359.00 L703.27 358.95 L704.04 358.91 L704.82 358.86 L705.59 358.82 L706.37 358.77 L707.14 358.73 L707.92 358.69 L708.70 358.65 L709.48 358.62 L710.26 358.58 L711.04 358.55 L711.82 358.51 L712.60 358.48 L713.39 358.45 L714.17 358.43 L714.96 358.40 L715.74 358.37 L716.53 358.35 L717.32 358.33 L718.11 358.31 L718.89 358.29 L719.69 358.27 L720.48 358.25 L721.27 358.24 L722.06 358.22 L722.85 358.21 L723.65 358.20 L724.44 358.19 L725.24 358.18 L726.04 358.17 L726.83 358.16 L727.63 358.16 L728.43 358.15 L729.23 358.15 L730.03 358.15 L730.83 358.15 L731.64 358.15 L732.44 358.15 L733.25 358.15 L734.05 358.16 L734.86 358.16 L735.66 358.17 L736.47 358.18 L737.28 358.19 L738.09 358.20 L738.90 358.21 L739.71 358.22 L740.52 358.23 L741.33 358.25 L742.15 358.26 L742.96 358.28 L743.78 358.30 L744.59 358.31 L745.41 358.33 L746.23 358.35 L747.04 358.38 L747.86 358.40 L748.68 358.42 L749.50 358.45 L750.33 358.47 L751.15 358.50 L751.97 358.52 L752.80 358.55 L753.62 358.58 L754.45 358.61 L755.27 358.64 L756.10 358.67 L756.93 358.71 L757.76 358.74 L758.59 358.77 L759.42 358.81 L760.25 358.85 L761.08 358.88 L761.91 358.92 L762.75 358.96 L763.58 359.00 L764.42 359.04 L765.25 359.08 L766.09 359.12 L766.93 359.17 L767.77 359.21 L768.61 359.25 L769.45 359.30 L770.29 359.34 L771.13 359.39 L771.97 359.44 L772.81 359.49 L773.66 359.54 L774.50 359.58 L775.35 359.64 L776.20 359.69 L777.04 359.74 L777.89 359.79 L778.74 359.84 L779.59 359.90 L780.44 359.95 L781.29 360.01 L782.14 360.06 L783.00 360.12 L783.85 360.18 L784.71 360.23 L785.56 360.29 L786.42 360.35 L787.27 360.41 L788.13 360.47 L788.99 360.53 L789.85 360.59 L790.71 360.65 L791.57 360.72 L792.43 360.78 L793.29 360.84 L794.16 360.91 L795.02 360.97 L795.89 361.04 L796.75 361.10 L797.62 361.17 L798.49 361.24 L799.35 361.30 L800.22 361.37 L801.09 361.44 L801.96 361.51 L802.83 361.58 L803.70 361.65 L804.58 361.72 L805.45 361.79 L806.33 361.86 L807.20 361.93 L808.08 362.00 L808.95 362.08 L809.83 362.15 L810.71 362.22 L811.59 362.30 L812.47 362.37 L813.35 362.45 L814.23 362.52 L815.11 362.60 L815.99 362.67 L816.88 362.75 L817.76 362.83 L818.65 362.90 L819.53 362.98 L820.42 363.06 L821.31 363.14 L822.20 363.22 L823.08 363.30 L823.97 363.37 L824.86 363.45 L825.76 363.53 L826.65 363.62 L827.54 363.70 L828.43 363.78 L829.33 363.86 L830.22 363.94 L831.12 364.02 L832.02 364.10 L832.91 364.19 L833.81 364.27 L834.71 364.35 L835.61 364.44 L836.51 364.52 L837.41 364.61 L838.32 364.69 L839.22 364.77 L840.12 364.86 L841.03 364.95 L841.93 365.03 L842.84 365.12 L843.74 365.20 L844.65 365.29 L845.56 365.38 L846.47 365.46 L847.38 365.55 L848.29 365.64 L849.20 365.72 L850.11 365.81 L851.03 365.90 L851.94 365.99 L852.85 366.08 L853.77 366.16 L854.68 366.25 L855.60 366.34 L856.52 366.43 L857.44 366.52 L858.36 366.61 L859.27 366.70 L860.20 366.79 L861.12 366.88 L862.04 366.97 L862.96 367.06 L863.88 367.15 L864.81 367.24 L865.73 367.33 L866.66 367.42 L867.59 367.51 L868.51 367.60 L869.44 367.69 L870.37 367.79 L871.30 367.88 L872.23 367.97 L873.16 368.06 L874.09 368.15 L875.02 368.24 L875.96 368.34 L876.89 368.43 L877.83 368.52 L878.76 368.61 L879.70 368.71 L880.63 368.80 L881.57 368.89 L882.51 368.98 L883.45 369.08 L884.39 369.17 L885.33 369.26 L886.27 369.36 L887.21 369.45 L888.16 369.54 L889.10 369.63 L890.04 369.73 L890.99 369.82 L891.94 369.91 L892.88 370.01 L893.83 370.10 L894.78 370.19 L895.73 370.29 L896.68 370.38 L897.63 370.48 L898.58 370.57 L899.53 370.66 L900.48 370.76 L901.43 370.85 L902.39 370.94 L903.34 371.04 L904.30 371.13 L905.25 371.22 L906.21 371.32 L907.17 371.41 L908.13 371.51 L909.09 371.60 L910.05 371.69 L911.01 371.79 L911.97 371.88 L912.93 371.97 L913.89 372.07 L914.86 372.16 L915.82 372.25 L916.79 372.35 L917.75 372.44 L918.72 372.54 L919.69 372.63 L920.65 372.72 L921.62 372.82 L922.59 372.91 L923.56 373.00 L924.53 373.10 L925.50 373.19 L926.48 373.28 L927.45 373.38 L928.42 373.47 L929.40 373.56 L930.37 373.65 L931.35 373.75 L932.33 373.84 L933.30 373.93 L934.28 374.03 L935.26 374.12 L936.24 374.21 L937.22 374.30 L938.20 374.40 L939.18 374.49 L940.17 374.58 L941.15 374.67 L942.13 374.76 L943.12 374.86 L944.10 374.95 L945.09 375.04 L946.08 375.13 L947.06 375.22 L948.05 375.31 L949.04 375.41 L950.03 375.50 L951.02 375.59 L952.01 375.68 L953.00 375.77 L954.00 375.86 L954.99 375.95 L955.98 376.04 L956.98 376.13 L957.97 376.22 L958.97 376.31 L959.97 376.40 L960.96 376.49 L961.96 376.58 L962.96 376.67 L963.96 376.76 L964.96 376.85 L965.96 376.94 L966.97 377.03 L967.97 377.12 L968.97 377.21 L969.98 377.30 L970.98 377.39 L971.99 377.47 L972.99 377.56 L974.00 377.65 L975.01 377.74 L976.01 377.83 L977.02 377.91 L978.03 378.00 L979.04 378.09 L980.06 378.18 L981.07 378.26 L982.08 378.35 L983.09 378.44 L984.11 378.52 L985.12 378.61 L986.14 378.70 L987.15 378.78 L988.17 378.87 L989.19 378.95 L990.21 379.04 L991.22 379.13 L992.24 379.21 L993.26 379.30 L994.29 379.38 L995.31 379.47 L996.33 379.55 L997.35 379.63 L998.38 379.72 L999.40 379.80 L1000.43 379.89 L1001.45 379.97 L1002.48 380.05 L1003.51 380.14 L1004.54 380.22 L1005.56 380.30 L1006.59 380.38 L1007.62 380.47 L1008.65 380.55 L1009.69 380.63 L1010.72 380.71 L1011.75 380.79 L1012.79 380.88 L1013.82 380.96 L1014.85 381.04 L1015.89 381.12 L1016.93 381.20 L1017.96 381.28 L1019.00 381.36 L1020.04 381.44 L1021.08 381.52 L1022.12 381.60 L1023.16 381.68 L1024.20 381.76 L1025.24 381.84 L1026.29 381.92 L1027.33 381.99 L1028.37 382.07 L1029.42 382.15 L1030.47 382.23 L1031.51 382.31 L1032.56 382.38 L1033.61 382.46 L1034.65 382.54 L1035.70 382.61 L1036.75 382.69 L1037.80 382.77 L1038.85 382.84 L1039.91 382.92 L1040.96 382.99 L1042.01 383.07 L1043.07 383.14 L1044.12 383.22 L1045.18 383.29 L1046.23 383.37 L1047.29 383.44 L1048.35 383.52 L1049.40 383.59 L1050.46 383.66 L1051.52 383.74 L1052.58 383.81 L1053.64 383.88 L1054.70 383.96 L1055.77 384.03 L1056.83 384.10 L1057.89 384.17 L1058.96 384.24 L1060.02 384.31 L1061.09 384.38 L1062.15 384.46 L1063.22 384.53 L1064.29 384.60 L1065.36 384.67 L1066.43 384.74 L1067.50 384.81 L1068.57 384.87 L1069.64 384.94 L1070.71 385.01 L1071.78 385.08 L1072.85 385.15 L1073.93 385.22 L1075.00 385.28 L1076.08 385.35 L1077.15 385.42 L1078.23 385.49 L1079.31 385.55 L1080.38 385.62 L1081.46 385.69 L1082.54 385.75 L1083.62 385.82 L1084.70 385.88 L1085.78 385.95 L1086.87 386.01 L1087.95 386.08 L1089.03 386.14 L1090.12 386.21 L1091.20 386.27 L1092.29 386.33 L1093.37 386.40 L1094.46 386.46 L1095.55 386.52 L1096.63 386.58 L1097.72 386.65 L1098.81 386.71 L1099.90 386.77 L1100.99 386.83 L1102.08 386.89 L1103.18 386.95 L1104.27 387.01 L1105.36 387.07 L1106.46 387.13 L1107.55 387.19 L1108.65 387.25 L1109.74 387.31 L1110.84 387.37 L1111.94 387.43 L1113.04 387.49 L1114.13 387.55 L1115.23 387.60 L1116.33 387.66 L1117.44 387.72 L1118.54 387.77 L1119.64 387.83 L1120.74 387.89 L1121.85 387.94 L1122.95 388.00 L1124.05 388.06 L1125.16 388.11 L1126.27 388.17 L1127.37 388.22 L1128.48 388.27 L1129.59 388.33 L1130.70 388.38 L1131.81 388.44 L1132.92 388.49 L1134.03 388.54 L1135.14 388.59 L1136.25 388.65 L1137.36 388.70 L1138.48 388.75 L1139.59 388.80 L1140.71 388.85 L1141.82 388.90 L1142.94 388.96 L1144.06 389.01 L1145.17 389.06 L1146.29 389.11 L1147.41 389.16 L1148.53 389.20 L1149.65 389.25 L1150.77 389.30 L1151.89 389.35 L1153.01 389.40 L1154.14 389.45 L1155.26 389.49 L1156.39 389.54 L1157.51 389.59 L1158.64 389.63 L1159.76 389.68 L1160.89 389.73 L1162.02 389.77 L1163.14 389.82 L1164.27 389.86 L1165.40 389.91 L1166.53 389.95 L1167.66 390.00 L1168.79 390.04 L1169.93 390.08 L1171.06 390.13 L1172.19 390.17 L1173.33 390.21 L1174.46 390.26 L1175.60 390.30 L1176.73 390.34 L1177.87 390.38 L1179.01 390.42 L1180.15 390.46 L1181.28 390.51 L1182.42 390.55 L1183.56 390.59 L1184.70 390.63 L1185.84 390.67 L1186.99 390.70 L1188.13 390.74 L1189.27 390.78 L1190.42 390.82 L1191.56 390.86 L1192.71 390.90 L1193.85 390.93 L1195.00 390.97 L1196.15 391.01 L1197.29 391.04 L1198.44 391.08 L1199.59 391.12 L1200.74 391.15 L1201.89 391.19 L1203.04 391.22 L1204.19 391.26 L1205.35 391.29 L1206.50 391.33 L1207.65 391.36 L1208.81 391.39 L1209.96 391.43 L1211.12 391.46 L1212.27 391.49 L1213.43 391.53 L1214.59 391.56 L1215.75 391.59 L1216.91 391.62 L1218.07 391.65 L1219.23 391.68 L1220.39 391.71 L1221.55 391.74 L1222.71 391.77 L1223.87 391.80 L1225.04 391.83 L1226.20 391.86 L1227.36 391.89 L1228.53 391.92 L1229.70 391.95 L1230.86 391.97 L1232.03 392.00 L1233.20 392.03 L1234.37 392.06 L1235.54 392.08 L1236.71 392.11 L1237.88 392.14 L1239.05 392.16 L1240.22 392.19 L1241.39 392.21 L1242.56 392.24 L1243.74 392.26 L1244.91 392.29 L1246.09 392.31 L1247.26 392.33 L1248.44 392.36 L1249.62 392.38 L1250.79 392.40 L1251.97 392.42 L1253.15 392.45 L1254.33 392.47 L1255.51 392.49 L1256.69 392.51 L1257.87 392.53 L1259.06 392.55 L1260.24 392.57 L1261.42 392.59 L1262.61 392.61 L1263.79 392.63 L1264.97 392.65 L1266.16 392.67 L1267.35 392.69 L1268.53 392.71 L1269.72 392.73 L1270.91 392.74 L1272.10 392.76 L1273.29 392.78 L1274.48 392.79 L1275.67 392.81 L1276.86 392.83 L1278.05 392.84 L1279.25 392.86 L1280.44 392.87 L1281.64 392.89 L1282.83 392.90 L1284.03 392.92 L1285.22 392.93 L1286.42 392.94 L1287.62 392.96 L1288.81 392.97 L1290.01 392.98 L1291.21 393.00 L1292.41 393.01 L1293.61 393.02 L1294.81 393.03 L1296.01 393.04 L1297.22 393.05 L1298.42 393.06 L1299.62 393.08 L1300.83 393.09 L1302.03 393.09 L1303.24 393.10 L1304.44 393.11 L1305.65 393.12 L1306.86 393.13 L1308.07 393.14 L1309.28 393.15 L1310.49 393.16 L1311.70 393.16 L1312.91 393.17 L1314.12 393.18 L1315.33 393.18 L1316.54 393.19 L1317.75 393.19 L1318.97 393.20 L1320.18 393.21 L1321.40 393.21 L1322.61 393.22 L1323.83 393.22 L1325.05 393.22 L1326.26 393.23 L1327.48 393.23 L1328.70 393.23 L1329.92 393.24 L1331.14 393.24 L1332.36 393.24 L1333.58 393.24 L1334.80 393.25 L1336.03 393.25 L1337.25 393.25 L1338.47 393.25 L1339.70 393.25 L1340.92 393.25 L1342.15 393.25 L1343.38 393.25 L1344.60 393.25 L1345.83 393.25 L1347.06 393.25 L1348.29 393.25 L1349.52 393.24 L1350.75 393.24 L1351.98 393.24 L1353.21 393.24 L1354.44 393.23 L1355.67 393.23 L1356.91 393.23 L1358.14 393.22 L1359.37 393.22 L1360.61 393.21 L1361.84 393.21 L1363.08 393.20 L1364.32 393.20 L1365.56 393.19 L1366.79 393.19 L1368.03 393.18 L1369.27 393.17 L1370.51 393.17 L1371.75 393.16 L1372.99 393.15 L1374.23 393.14 L1375.48 393.14 L1376.72 393.13 L1377.96 393.12 L1379.21 393.11 L1380.45 393.10 L1381.70 393.09 L1382.95 393.08 L1384.19 393.07 L1385.44 393.06 L1386.69 393.05 L1387.94 393.04 L1389.19 393.03 L1390.43 393.02 L1391.69 393.01 L1392.94 392.99 L1394.19 392.98 L1395.44 392.97 L1396.69 392.96 L1397.95 392.94 L1399.20 392.93 L1400.46 392.91 L1401.71 392.90 L1402.97 392.89 L1404.22 392.87 L1405.48 392.86 L1406.74 392.84 L1408.00 392.83 L1409.26 392.81 L1410.52 392.79 L1411.78 392.78 L1413.04 392.76 L1414.30 392.74 L1415.56 392.73 L1416.82 392.71 L1418.09 392.69 L1419.35 392.67 L1420.62 392.65 L1421.88 392.63 L1423.15 392.62 L1424.41 392.60 L1425.68 392.58 L1426.95 392.56 L1428.22 392.54 L1429.49 392.52 L1430.75 392.50 L1432.03 392.47 L1433.30 392.45 L1434.57 392.43 L1435.84 392.41 L1437.11 392.39 L1438.38 392.36 L1439.66 392.34 L1440.93 392.32 L1442.21 392.30 L1443.48 392.27 L1444.76 392.25 L1446.04 392.22 L1447.31 392.20 L1448.59 392.17 L1449.87 392.15 L1451.15 392.12 L1452.43 392.10 L1453.71 392.07 L1454.99 392.05 L1456.27 392.02 L1457.55 391.99 L1458.84 391.97 L1460.12 391.94 L1461.41 391.91 L1462.69 391.88 L1463.98 391.86 L1465.26 391.83 L1466.55 391.80 L1467.83 391.77 L1469.12 391.74 L1470.41 391.71 L1471.70 391.68 L1472.99 391.65 L1474.28 391.62 L1475.57 391.59 L1476.86 391.56 L1478.15 391.53 L1479.45 391.50 L1480.74 391.46 L1482.03 391.43 L1483.33 391.40 L1484.62 391.37 L1485.92 391.33 L1487.21 391.30 L1488.51 391.27 L1489.81 391.23 L1491.11 391.20 L1492.40 391.17 L1493.70 391.13 L1495.00 391.10 L1496.30 391.06 L1497.60 391.03 L1498.91 390.99 L1500.21 390.95 L1501.51 390.92 L1502.81 390.88 L1504.12 390.84 L1505.42 390.81 L1506.73 390.77 L1508.03 390.73 L1509.34 390.69 L1510.65 390.66 L1511.95 390.62 L1513.26 390.58 L1514.57 390.54 L1515.88 390.50 L1517.19 390.46 L1518.50 390.42 L1519.81 390.38 L1521.12 390.34 L1522.44 390.30 L1523.75 390.26 L1525.06 390.22 L1526.38 390.18 L1527.69 390.14 L1529.01 390.09 L1530.32 390.05 L1531.64 390.01 L1532.96 389.97 L1534.27 389.92 L1535.59 389.88 L1536.91 389.84 L1538.23 389.79 L1539.55 389.75 L1540.87 389.71 L1542.19 389.66 L1543.51 389.62 L1544.84 389.57 L1546.16 389.53 L1547.48 389.48 L1548.81 389.43 L1550.13 389.39 L1551.46 389.34 L1552.78 389.29 L1554.11 389.25 L1555.44 389.20 L1556.77 389.15 L1558.09 389.10 L1559.42 389.06 L1560.75 389.01 L1562.08 388.96 L1563.41 388.91 L1564.74 388.86 L1566.08 388.81 L1567.41 388.76 L1568.74 388.71 L1570.08 388.66 L1571.41 388.61 L1572.74 388.56 L1574.08 388.51 L1575.42 388.46 L1576.75 388.41 L1578.09 388.36 L1579.43 388.30 L1580.77 388.25 L1582.11 388.20 L1583.45 388.15 L1584.79 388.09 L1586.13 388.04 L1587.47 387.99 L1588.81 387.93 L1590.15 387.88 L1591.49 387.82 L1592.84 387.77 L1594.18 387.71 L1595.53 387.66 L1596.87 387.60 L1598.22 387.55 L1599.57 387.49 L1600.91 387.44 L1602.26 387.38 L1603.61 387.32 L1604.96 387.27 L1606.31 387.21 L1607.66 387.15 L1609.01 387.09 L1610.36 387.03 L1611.71 386.98 L1613.06 386.92 L1614.42 386.86 L1615.77 386.80 L1617.13 386.74 L1618.48 386.68 L1619.84 386.62 L1621.19 386.56 L1622.55 386.50 L1623.91 386.44 L1625.26 386.38 L1626.62 386.32 L1627.98 386.26 L1629.34 386.20" stroke="#ff00ff" stroke-width="5.0" stroke-dasharray="7.873 6.08 15.947 6.08" stroke-dashoffset="0"/>
</g>
<path d="M179.55 932.72V921.42M179.55 1.46V12.76M237.43 932.72V926.12M237.43 1.46V8.06M295.32 932.72V926.12M295.32 1.46V8.06M353.20 932.72V926.12M353.20 1.46V8.06M411.08 932.72V926.12M411.08 1.46V8.06M468.97 932.72V921.42M468.97 1.46V12.76M526.85 932.72V926.12M526.85 1.46V8.06M584.74 932.72V926.12M584.74 1.46V8.06M642.62 932.72V926.12M642.62 1.46V8.06M700.50 932.72V926.12M700.50 1.46V8.06M758.39 932.72V921.42M758.39 1.46V12.76M816.27 932.72V926.12M816.27 1.46V8.06M874.15 932.72V926.12M874.15 1.46V8.06M932.04 932.72V926.12M932.04 1.46V8.06M989.92 932.72V926.12M989.92 1.46V8.06M1047.80 932.72V921.42M1047.80 1.46V12.76M1105.69 932.72V926.12M1105.69 1.46V8.06M1163.57 932.72V926.12M1163.57 1.46V8.06M1221.45 932.72V926.12M1221.45 1.46V8.06M1279.34 932.72V926.12M1279.34 1.46V8.06M1337.22 932.72V921.42M1337.22 1.46V12.76M1395.11 932.72V926.12M1395.11 1.46V8.06M1452.99 932.72V926.12M1452.99 1.46V8.06M1510.87 932.72V926.12M1510.87 1.46V8.06M1568.76 932.72V926.12M1568.76 1.46V8.06M1626.64 932.72V921.42M1626.64 1.46V12.76M149.40 932.72H160.70M1656.79 932.72H1645.49M149.40 898.86H156.00M1656.79 898.86H1650.19M149.40 864.99H156.00M1656.79 864.99H1650.19M149.40 831.13H156.00M1656.79 831.13H1650.19M149.40 797.26H156.00M1656.79 797.26H1650.19M149.40 763.40H160.70M1656.79 763.40H1645.49M149.40 729.54H156.00M1656.79 729.54H1650.19M149.40 695.67H156.00M1656.79 695.67H1650.19M149.40 661.81H156.00M1656.79 661.81H1650.19M149.40 627.94H156.00M1656.79 627.94H1650.19M149.40 594.08H160.70M1656.79 594.08H1645.49M149.40 560.22H156.00M1656.79 560.22H1650.19M149.40 526.35H156.00M1656.79 526.35H1650.19M149.40 492.49H156.00M1656.79 492.49H1650.19M149.40 458.62H156.00M1656.79 458.62H1650.19M149.40 424.76H160.70M1656.79 424.76H1645.49M149.40 390.90H156.00M1656.79 390.90H1650.19M149.40 357.03H156.00M1656.79 357.03H1650.19M149.40 323.17H156.00M1656.79 323.17H1650.19M149.40 289.30H156.00M1656.79 289.30H1650.19M149.40 255.44H160.70M1656.79 255.44H1645.49M149.40 221.58H156.00M1656.79 221.58H1650.19M149.40 187.71H156.00M1656.79 187.71H1650.19M149.40 153.85H156.00M1656.79 153.85H1650.19M149.40 119.98H156.00M1656.79 119.98H1650.19M149.40 86.12H160.70M1656.79 86.12H1645.49M149.40 52.26H156.00M1656.79 52.26H1650.19M149.40 18.39H156.00M1656.79 18.39H1650.19" stroke="#000" stroke-width="2.86" fill="none"/>
<path d="M149.40 763.40H162.10M1644.09 763.40H1656.79" stroke="#909090" stroke-width="0.8" opacity="0.5" fill="none"/>
<rect x="149.40" y="1.46" width="1507.39" height="931.26" fill="none" stroke="#000" stroke-width="2.95"/>
<g font-size="39px" font-weight="bold">
<text transform="translate(139.30 946.72) scale(0.985 1.05)" text-anchor="end">0.1</text>
<text transform="translate(61.60 949.52) scale(0.95 1)" stroke="#000" stroke-width="1.3">−</text>
<text transform="translate(139.30 777.40) scale(0.985 1.05)" text-anchor="end">0.0</text>
<text transform="translate(139.30 608.08) scale(0.985 1.05)" text-anchor="end">0.1</text>
<text transform="translate(139.30 438.76) scale(0.985 1.05)" text-anchor="end">0.2</text>
<text transform="translate(139.30 269.44) scale(0.985 1.05)" text-anchor="end">0.3</text>
<text transform="translate(139.30 100.12) scale(0.985 1.05)" text-anchor="end">0.4</text>
<text transform="translate(179.05 976.65) scale(0.985 1.05)" text-anchor="middle">0</text>
<text transform="translate(468.47 976.65) scale(0.985 1.05)" text-anchor="middle">1</text>
<text transform="translate(757.89 976.65) scale(0.985 1.05)" text-anchor="middle">2</text>
<text transform="translate(1047.30 976.65) scale(0.985 1.05)" text-anchor="middle">3</text>
<text transform="translate(1336.72 976.65) scale(0.985 1.05)" text-anchor="middle">4</text>
<text transform="translate(1626.14 976.65) scale(0.985 1.05)" text-anchor="middle">5</text>
<text transform="translate(903.70 1038.20) scale(0.985 1.05)" text-anchor="middle">S</text>
<text transform="translate(36.10 467.55) rotate(-90) scale(0.985 1.035)" text-anchor="middle">T</text>
</g>
<g stroke="#000" stroke-width="0.4">
<line x1="1315.06" y1="55.90" x2="1423.94" y2="55.90" stroke="#0000ff" stroke-width="6.06"/>
<text x="1444.30" y="68.20" font-size="27px" font-style="italic">Q</text><text x="1465.40" y="57.50" font-size="25px">2</text>
<text x="1490.00" y="71.30" font-size="27px">=</text>
<text transform="translate(1515.00 68.20) scale(1 1.035)" font-size="27px">1.4</text>
<text x="1565.90" y="68.20" font-size="27px" font-style="italic">Q</text><text x="1587.00" y="57.50" font-size="25px">2</text><text x="1587.20" y="79.10" font-size="25px" font-style="italic">c</text>
<line x1="1315.06" y1="125.05" x2="1423.94" y2="125.05" stroke="#00ff00" stroke-width="4.80" stroke-dasharray="32.5 31.5"/>
<text x="1444.30" y="137.35" font-size="27px" font-style="italic">Q</text><text x="1465.40" y="126.65" font-size="25px">2</text>
<text x="1490.00" y="140.45" font-size="27px">=</text>
<text transform="translate(1515.00 137.35) scale(1 1.035)" font-size="27px">1.2</text>
<text x="1565.90" y="137.35" font-size="27px" font-style="italic">Q</text><text x="1587.00" y="126.65" font-size="25px">2</text><text x="1587.20" y="148.25" font-size="25px" font-style="italic">c</text>
<line x1="1315.06" y1="194.30" x2="1423.94" y2="194.30" stroke="#000000" stroke-width="5.10" stroke-dasharray="16 6.3"/>
<text x="1444.30" y="206.60" font-size="27px" font-style="italic">Q</text><text x="1465.40" y="195.90" font-size="25px">2</text>
<text x="1490.00" y="209.70" font-size="27px">=</text>
<text x="1516.50" y="206.60" font-size="27px" font-style="italic">Q</text><text x="1537.60" y="195.90" font-size="25px">2</text><text x="1537.80" y="217.50" font-size="25px" font-style="italic">c</text>
<line x1="1315.06" y1="263.40" x2="1423.94" y2="263.40" stroke="#ff0000" stroke-width="4.90" stroke-dasharray="7.4 3.7"/>
<text x="1444.30" y="275.70" font-size="27px" font-style="italic">Q</text><text x="1465.40" y="265.00" font-size="25px">2</text>
<text x="1490.00" y="278.80" font-size="27px">=</text>
<text transform="translate(1506.50 275.70) scale(1 1.035)" font-size="27px">0.8</text>
<text x="1558.00" y="275.70" font-size="27px" font-style="italic">Q</text><text x="1579.10" y="265.00" font-size="25px">2</text><text x="1579.30" y="286.60" font-size="25px" font-style="italic">c</text>
<line x1="1315.06" y1="332.60" x2="1423.94" y2="332.60" stroke="#ff00ff" stroke-width="5.00" stroke-dasharray="7.9 6.1 16 6.4"/>
<text x="1444.30" y="344.90" font-size="27px" font-style="italic">Q</text><text x="1465.40" y="334.20" font-size="25px">2</text>
<text x="1490.00" y="348.00" font-size="27px">=</text>
<text transform="translate(1515.00 344.90) scale(1 1.035)" font-size="27px">0.6</text>
<text x="1565.90" y="344.90" font-size="27px" font-style="italic">Q</text><text x="1587.00" y="334.20" font-size="25px">2</text><text x="1587.20" y="355.80" font-size="25px" font-style="italic">c</text>
</g>
</svg></body></html>
